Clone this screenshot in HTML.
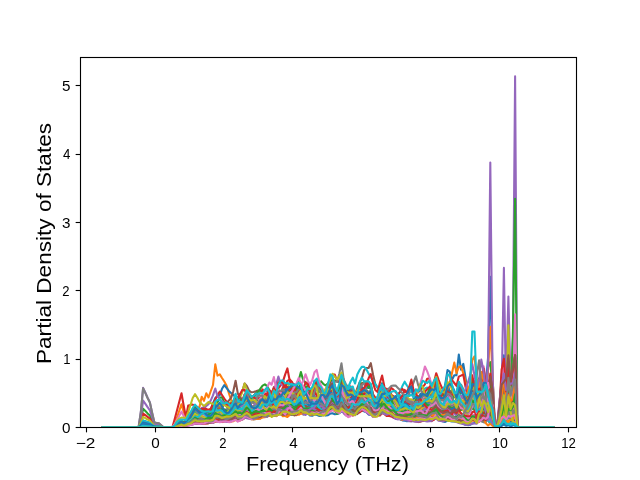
<!DOCTYPE html>
<html><head><meta charset="utf-8"><style>
html,body{margin:0;padding:0;background:#fff;overflow:hidden;}
svg{display:block;}
.ov{position:absolute;left:0;top:0;will-change:transform;}
</style></head><body>
<svg width="640" height="480" viewBox="0 0 640 480">
<rect width="640" height="480" fill="#fff"/>
<defs><clipPath id="c"><rect x="80" y="57.6" width="496" height="369.6"/></clipPath></defs>
<g clip-path="url(#c)" fill="none" stroke-width="2.08" stroke-linejoin="round" stroke-linecap="square">
<polyline stroke="#1f77b4" points="102.5,427.2 104.8,427.2 107.1,427.2 109.3,427.2 111.6,427.2 113.8,427.2 116.1,427.2 118.3,427.2 120.6,427.2 122.8,427.2 125.1,427.2 127.3,427.2 129.6,427.2 131.9,427.2 134.1,427.2 136.4,427.2 138.6,427.2 140.9,427.2 143.1,427.2 145.4,427.2 147.6,427.2 149.9,427.2 152.1,427.2 154.4,427.2 156.7,427.2 158.9,427.2 161.2,427.2 163.4,427.2 165.7,427.2 167.9,427.2 170.2,427.2 172.4,427.2 174.7,426.8 176.9,425.5 179.2,424.0 181.5,423.0 183.7,424.9 186.0,423.9 188.2,421.7 190.5,419.9 192.7,416.7 195.0,413.7 197.2,415.6 199.5,418.0 201.7,417.7 204.0,418.0 206.3,418.8 208.5,418.5 210.8,416.4 213.0,413.7 215.3,410.2 217.5,413.4 219.8,413.7 222.0,413.3 224.3,414.0 226.5,413.6 228.8,412.8 231.1,413.8 233.3,413.6 235.6,409.0 237.8,410.2 240.1,409.9 242.3,408.9 244.6,406.3 246.8,407.6 249.1,409.4 251.3,410.6 253.6,411.0 255.9,411.3 258.1,411.9 260.4,410.2 262.6,406.8 264.9,406.7 267.1,402.8 269.4,397.6 271.6,402.7 273.9,400.4 276.1,405.2 278.4,403.0 280.7,401.9 282.9,401.2 285.2,401.7 287.4,399.8 289.7,396.7 291.9,399.2 294.2,404.3 296.4,401.7 298.7,396.0 300.9,396.6 303.2,402.4 305.5,404.4 307.7,405.3 310.0,406.8 312.2,405.5 314.5,409.3 316.7,410.7 319.0,402.3 321.2,395.3 323.5,401.6 325.7,403.0 328.0,399.2 330.3,395.9 332.5,391.0 334.8,395.9 337.0,404.8 339.3,401.9 341.5,393.2 343.8,399.4 346.0,400.3 348.3,402.6 350.5,403.8 352.8,401.6 355.1,405.6 357.3,402.6 359.6,397.6 361.8,397.1 364.1,397.9 366.3,396.9 368.6,398.3 370.8,402.8 373.1,411.9 375.3,412.0 377.6,410.0 379.9,408.3 382.1,404.9 384.4,408.0 386.6,408.9 388.9,407.7 391.1,405.8 393.4,409.5 395.6,412.1 397.9,412.3 400.1,412.6 402.4,414.1 404.7,412.0 406.9,410.8 409.2,409.8 411.4,409.4 413.7,412.5 415.9,409.5 418.2,409.8 420.4,407.7 422.7,406.5 424.9,406.8 427.2,405.4 429.5,400.5 431.7,399.8 434.0,399.6 436.2,398.2 438.5,399.8 440.7,399.3 443.0,395.2 445.2,384.3 447.5,370.1 449.7,371.7 452.0,379.8 454.3,375.3 456.5,375.1 458.8,354.5 461.0,369.7 463.3,363.9 465.5,377.4 467.8,394.9 470.0,401.2 472.3,401.4 474.5,400.7 476.8,405.6 479.1,394.6 481.3,407.7 483.6,408.3 485.8,409.0 488.1,402.2 490.3,413.4 492.6,417.6 494.8,425.6 497.1,426.8 499.3,423.7 501.6,420.3 503.9,420.2 506.1,420.3 508.4,415.7 510.6,422.3 512.9,419.2 515.1,420.7 517.4,427.2 519.6,427.2 521.9,427.2 524.1,427.2 526.4,427.2 528.7,427.2 530.9,427.2 533.2,427.2 535.4,427.2 537.7,427.2 539.9,427.2 542.2,427.2 544.4,427.2 546.7,427.2 548.9,427.2 551.2,427.2 553.5,427.2"/>
<polyline stroke="#ff7f0e" points="102.5,427.2 104.8,427.2 107.1,427.2 109.3,427.2 111.6,427.2 113.8,427.2 116.1,427.2 118.3,427.2 120.6,427.2 122.8,427.2 125.1,427.2 127.3,427.2 129.6,427.2 131.9,427.2 134.1,427.2 136.4,427.2 138.6,427.2 140.9,427.2 143.1,427.2 145.4,427.2 147.6,427.2 149.9,427.2 152.1,427.2 154.4,427.2 156.7,427.2 158.9,427.2 161.2,427.2 163.4,427.2 165.7,427.2 167.9,427.2 170.2,427.2 172.4,427.2 174.7,426.9 176.9,426.1 179.2,424.6 181.5,422.5 183.7,424.0 186.0,418.6 188.2,414.9 190.5,412.3 192.7,410.2 195.0,409.7 197.2,410.0 199.5,406.7 201.7,396.7 204.0,400.8 206.3,393.3 208.5,397.5 210.8,391.0 213.0,385.0 215.3,364.4 217.5,375.6 219.8,374.4 222.0,378.0 224.3,381.5 226.5,385.5 228.8,393.0 231.1,400.0 233.3,401.5 235.6,402.5 237.8,403.1 240.1,404.4 242.3,403.8 244.6,401.9 246.8,403.8 249.1,410.1 251.3,411.7 253.6,408.9 255.9,411.2 258.1,409.6 260.4,405.4 262.6,402.8 264.9,403.1 267.1,402.0 269.4,398.7 271.6,407.9 273.9,409.2 276.1,406.5 278.4,397.8 280.7,398.2 282.9,398.8 285.2,404.1 287.4,402.6 289.7,397.0 291.9,395.0 294.2,398.0 296.4,405.1 298.7,406.5 300.9,404.4 303.2,405.0 305.5,400.8 307.7,403.5 310.0,407.4 312.2,405.2 314.5,403.0 316.7,403.1 319.0,404.6 321.2,402.6 323.5,404.2 325.7,405.4 328.0,402.2 330.3,399.3 332.5,396.3 334.8,403.1 337.0,409.9 339.3,404.7 341.5,393.1 343.8,397.1 346.0,403.9 348.3,407.3 350.5,404.9 352.8,404.8 355.1,409.2 357.3,406.1 359.6,399.3 361.8,400.6 364.1,400.7 366.3,398.5 368.6,399.0 370.8,399.1 373.1,404.8 375.3,405.7 377.6,402.8 379.9,398.2 382.1,398.2 384.4,402.6 386.6,404.4 388.9,404.0 391.1,402.1 393.4,403.2 395.6,409.3 397.9,411.5 400.1,410.0 402.4,407.1 404.7,403.0 406.9,404.9 409.2,407.9 411.4,408.9 413.7,411.1 415.9,409.5 418.2,411.2 420.4,408.5 422.7,406.1 424.9,405.8 427.2,404.4 429.5,399.8 431.7,401.2 434.0,400.1 436.2,400.3 438.5,407.6 440.7,408.3 443.0,408.3 445.2,407.2 447.5,402.2 449.7,402.8 452.0,407.0 454.3,410.0 456.5,412.2 458.8,407.1 461.0,409.0 463.3,410.4 465.5,411.7 467.8,412.6 470.0,411.5 472.3,406.5 474.5,407.5 476.8,414.0 479.1,410.8 481.3,410.1 483.6,411.0 485.8,411.9 488.1,416.2 490.3,420.0 492.6,421.9 494.8,426.4 497.1,426.9 499.3,417.3 501.6,388.2 503.9,364.2 506.1,399.0 508.4,383.0 510.6,407.7 512.9,382.3 515.1,358.9 517.4,427.2 519.6,427.2 521.9,427.2 524.1,427.2 526.4,427.2 528.7,427.2 530.9,427.2 533.2,427.2 535.4,427.2 537.7,427.2 539.9,427.2 542.2,427.2 544.4,427.2 546.7,427.2 548.9,427.2 551.2,427.2 553.5,427.2"/>
<polyline stroke="#2ca02c" points="102.5,427.2 104.8,427.2 107.1,427.2 109.3,427.2 111.6,427.2 113.8,427.2 116.1,427.2 118.3,427.2 120.6,427.2 122.8,427.2 125.1,427.2 127.3,427.2 129.6,427.2 131.9,427.2 134.1,427.2 136.4,427.2 138.6,427.2 140.9,427.2 143.1,427.2 145.4,427.2 147.6,427.2 149.9,427.2 152.1,427.2 154.4,427.2 156.7,427.2 158.9,427.2 161.2,427.2 163.4,427.2 165.7,427.2 167.9,427.2 170.2,427.2 172.4,427.2 174.7,426.6 176.9,424.4 179.2,422.7 181.5,420.9 183.7,422.7 186.0,419.6 188.2,417.3 190.5,418.1 192.7,411.9 195.0,407.4 197.2,409.1 199.5,410.5 201.7,409.1 204.0,409.4 206.3,410.8 208.5,412.1 210.8,409.6 213.0,406.7 215.3,401.3 217.5,404.3 219.8,404.4 222.0,402.7 224.3,404.4 226.5,406.2 228.8,407.4 231.1,409.5 233.3,408.6 235.6,400.9 237.8,402.1 240.1,400.7 242.3,401.3 244.6,399.1 246.8,394.2 249.1,395.3 251.3,399.3 253.6,400.9 255.9,401.6 258.1,400.3 260.4,400.9 262.6,399.2 264.9,401.7 267.1,399.0 269.4,395.9 271.6,396.3 273.9,390.4 276.1,397.3 278.4,397.5 280.7,398.1 282.9,395.9 285.2,393.1 287.4,389.5 289.7,389.8 291.9,389.4 294.2,389.0 296.4,388.4 298.7,380.3 300.9,372.1 303.2,380.1 305.5,382.4 307.7,384.7 310.0,389.9 312.2,388.7 314.5,387.3 316.7,385.8 319.0,383.5 321.2,381.3 323.5,384.2 325.7,385.5 328.0,383.3 330.3,381.5 332.5,380.0 334.8,380.8 337.0,381.5 339.3,382.3 341.5,384.2 343.8,386.7 346.0,387.8 348.3,390.5 350.5,392.0 352.8,395.0 355.1,400.6 357.3,399.6 359.6,394.9 361.8,393.2 364.1,392.2 366.3,390.1 368.6,392.0 370.8,391.8 373.1,400.8 375.3,403.6 377.6,402.8 379.9,396.0 382.1,383.4 384.4,389.9 386.6,394.2 388.9,394.7 391.1,396.7 393.4,403.4 395.6,406.6 397.9,404.8 400.1,404.8 402.4,405.9 404.7,404.3 406.9,404.4 409.2,405.5 411.4,407.9 413.7,410.9 415.9,405.9 418.2,407.5 420.4,405.0 422.7,401.9 424.9,400.5 427.2,398.0 429.5,395.7 431.7,397.7 434.0,396.0 436.2,390.6 438.5,394.7 440.7,397.7 443.0,400.3 445.2,396.7 447.5,389.2 449.7,390.7 452.0,392.7 454.3,395.2 456.5,398.6 458.8,389.7 461.0,396.6 463.3,398.0 465.5,398.5 467.8,401.3 470.0,397.9 472.3,384.3 474.5,387.9 476.8,403.9 479.1,398.5 481.3,402.1 483.6,396.3 485.8,399.1 488.1,366.7 490.3,362.1 492.6,388.6 494.8,424.5 497.1,427.1 499.3,413.1 501.6,400.8 503.9,380.4 506.1,398.4 508.4,393.6 510.6,400.8 512.9,403.8 515.1,381.7 517.4,427.2 519.6,427.2 521.9,427.2 524.1,427.2 526.4,427.2 528.7,427.2 530.9,427.2 533.2,427.2 535.4,427.2 537.7,427.2 539.9,427.2 542.2,427.2 544.4,427.2 546.7,427.2 548.9,427.2 551.2,427.2 553.5,427.2"/>
<polyline stroke="#d62728" points="102.5,427.2 104.8,427.2 107.1,427.2 109.3,427.2 111.6,427.2 113.8,427.2 116.1,427.2 118.3,427.2 120.6,427.2 122.8,427.2 125.1,427.2 127.3,427.2 129.6,427.2 131.9,427.2 134.1,427.2 136.4,427.2 138.6,427.2 140.9,427.2 143.1,427.2 145.4,427.2 147.6,427.2 149.9,427.2 152.1,427.2 154.4,427.2 156.7,427.2 158.9,427.2 161.2,427.2 163.4,427.2 165.7,427.2 167.9,427.2 170.2,427.2 172.4,427.2 174.7,426.7 176.9,425.0 179.2,422.1 181.5,420.5 183.7,423.4 186.0,421.3 188.2,418.0 190.5,417.9 192.7,416.3 195.0,412.2 197.2,412.0 199.5,412.2 201.7,413.5 204.0,413.0 206.3,413.1 208.5,414.0 210.8,414.4 213.0,411.5 215.3,405.1 217.5,407.9 219.8,408.1 222.0,410.0 224.3,411.5 226.5,412.1 228.8,411.9 231.1,410.0 233.3,407.8 235.6,407.5 237.8,411.4 240.1,407.6 242.3,401.9 244.6,395.9 246.8,394.0 249.1,399.1 251.3,406.2 253.6,407.7 255.9,409.8 258.1,407.7 260.4,404.8 262.6,406.9 264.9,410.1 267.1,406.2 269.4,398.0 271.6,393.9 273.9,387.1 276.1,389.9 278.4,388.3 280.7,385.1 282.9,381.6 285.2,374.4 287.4,368.4 289.7,380.7 291.9,387.3 294.2,389.0 296.4,391.1 298.7,389.8 300.9,387.3 303.2,392.9 305.5,389.7 307.7,391.3 310.0,399.6 312.2,400.2 314.5,392.3 316.7,387.2 319.0,391.8 321.2,390.5 323.5,396.0 325.7,397.3 328.0,392.9 330.3,386.1 332.5,382.3 334.8,387.3 337.0,391.0 339.3,389.4 341.5,380.7 343.8,388.7 346.0,398.2 348.3,395.4 350.5,386.4 352.8,389.0 355.1,396.2 357.3,392.2 359.6,388.3 361.8,387.6 364.1,388.2 366.3,391.5 368.6,394.2 370.8,394.2 373.1,404.3 375.3,405.8 377.6,396.9 379.9,395.5 382.1,393.5 384.4,392.6 386.6,393.9 388.9,393.0 391.1,394.0 393.4,403.1 395.6,410.5 397.9,406.8 400.1,403.2 402.4,401.4 404.7,401.6 406.9,401.7 409.2,400.7 411.4,401.0 413.7,404.3 415.9,400.0 418.2,400.5 420.4,396.0 422.7,396.0 424.9,396.0 427.2,396.8 429.5,394.5 431.7,392.5 434.0,385.4 436.2,378.9 438.5,391.1 440.7,397.3 443.0,399.5 445.2,400.0 447.5,392.1 449.7,392.2 452.0,397.5 454.3,402.9 456.5,405.0 458.8,391.5 461.0,399.2 463.3,404.8 465.5,406.7 467.8,405.7 470.0,399.7 472.3,387.0 474.5,388.2 476.8,399.9 479.1,390.0 481.3,396.9 483.6,400.0 485.8,401.1 488.1,387.7 490.3,396.8 492.6,419.3 494.8,425.8 497.1,426.7 499.3,420.7 501.6,413.3 503.9,393.8 506.1,406.8 508.4,390.5 510.6,406.7 512.9,405.8 515.1,383.2 517.4,427.2 519.6,427.2 521.9,427.2 524.1,427.2 526.4,427.2 528.7,427.2 530.9,427.2 533.2,427.2 535.4,427.2 537.7,427.2 539.9,427.2 542.2,427.2 544.4,427.2 546.7,427.2 548.9,427.2 551.2,427.2 553.5,427.2"/>
<polyline stroke="#9467bd" points="102.5,427.2 104.8,427.2 107.1,427.2 109.3,427.2 111.6,427.2 113.8,427.2 116.1,427.2 118.3,427.2 120.6,427.2 122.8,427.2 125.1,427.2 127.3,427.2 129.6,427.2 131.9,427.2 134.1,427.2 136.4,427.2 138.6,427.2 140.9,411.5 143.1,387.9 145.4,392.8 147.6,397.7 149.9,402.4 152.1,412.7 154.4,422.5 156.7,422.9 158.9,423.3 161.2,425.2 163.4,427.2 165.7,427.2 167.9,427.2 170.2,427.2 172.4,427.2 174.7,426.9 176.9,425.7 179.2,424.0 181.5,422.5 183.7,424.2 186.0,423.4 188.2,422.8 190.5,422.2 192.7,419.2 195.0,416.7 197.2,417.1 199.5,418.0 201.7,419.0 204.0,420.0 206.3,419.8 208.5,419.7 210.8,418.4 213.0,415.1 215.3,411.2 217.5,415.1 219.8,414.9 222.0,412.8 224.3,413.1 226.5,415.8 228.8,418.4 231.1,417.2 233.3,414.5 235.6,409.9 237.8,410.3 240.1,411.2 242.3,411.8 244.6,410.8 246.8,410.0 249.1,411.3 251.3,413.0 253.6,410.9 255.9,408.6 258.1,408.3 260.4,408.3 262.6,408.8 264.9,404.0 267.1,398.3 269.4,393.3 271.6,392.2 273.9,388.5 276.1,384.7 278.4,376.6 280.7,383.8 282.9,385.9 285.2,389.5 287.4,392.1 289.7,395.3 291.9,399.4 294.2,402.6 296.4,406.3 298.7,400.6 300.9,399.1 303.2,407.5 305.5,406.2 307.7,403.8 310.0,406.3 312.2,407.9 314.5,409.1 316.7,408.8 319.0,408.3 321.2,407.6 323.5,410.8 325.7,410.1 328.0,408.0 330.3,406.1 332.5,402.6 334.8,406.0 337.0,409.5 339.3,409.0 341.5,402.9 343.8,407.8 346.0,411.3 348.3,414.1 350.5,413.0 352.8,413.2 355.1,412.1 357.3,405.7 359.6,401.8 361.8,400.6 364.1,402.9 366.3,400.5 368.6,401.8 370.8,407.9 373.1,410.4 375.3,412.7 377.6,410.6 379.9,409.2 382.1,407.7 384.4,406.3 386.6,407.2 388.9,407.4 391.1,406.2 393.4,408.0 395.6,409.6 397.9,411.9 400.1,413.5 402.4,411.7 404.7,410.8 406.9,414.1 409.2,416.2 411.4,414.8 413.7,414.6 415.9,411.6 418.2,411.1 420.4,411.1 422.7,410.7 424.9,411.0 427.2,412.7 429.5,411.9 431.7,413.9 434.0,414.6 436.2,411.9 438.5,412.5 440.7,414.0 443.0,415.6 445.2,415.7 447.5,412.1 449.7,411.6 452.0,413.8 454.3,413.8 456.5,414.1 458.8,411.8 461.0,414.3 463.3,414.7 465.5,418.0 467.8,419.0 470.0,418.4 472.3,414.7 474.5,414.7 476.8,418.9 479.1,414.9 481.3,415.6 483.6,405.4 485.8,403.9 488.1,388.0 490.3,396.8 492.6,413.2 494.8,424.8 497.1,427.0 499.3,414.0 501.6,396.5 503.9,372.1 506.1,398.6 508.4,385.7 510.6,393.3 512.9,336.8 515.1,76.4 517.4,427.2 519.6,427.2 521.9,427.2 524.1,427.2 526.4,427.2 528.7,427.2 530.9,427.2 533.2,427.2 535.4,427.2 537.7,427.2 539.9,427.2 542.2,427.2 544.4,427.2 546.7,427.2 548.9,427.2 551.2,427.2 553.5,427.2"/>
<polyline stroke="#8c564b" points="102.5,427.2 104.8,427.2 107.1,427.2 109.3,427.2 111.6,427.2 113.8,427.2 116.1,427.2 118.3,427.2 120.6,427.2 122.8,427.2 125.1,427.2 127.3,427.2 129.6,427.2 131.9,427.2 134.1,427.2 136.4,427.2 138.6,427.2 140.9,427.2 143.1,427.2 145.4,427.2 147.6,427.2 149.9,427.2 152.1,427.2 154.4,427.2 156.7,427.2 158.9,427.2 161.2,427.2 163.4,427.2 165.7,427.2 167.9,427.2 170.2,427.2 172.4,427.2 174.7,426.9 176.9,425.9 179.2,424.7 181.5,424.0 183.7,424.6 186.0,422.8 188.2,421.7 190.5,421.6 192.7,419.9 195.0,417.8 197.2,418.8 199.5,418.4 201.7,418.5 204.0,420.5 206.3,420.6 208.5,420.5 210.8,418.9 213.0,416.0 215.3,413.8 217.5,416.7 219.8,416.7 222.0,417.0 224.3,418.0 226.5,416.3 228.8,416.3 231.1,413.1 233.3,407.3 235.6,402.4 237.8,399.0 240.1,395.0 242.3,391.4 244.6,383.5 246.8,385.9 249.1,390.6 251.3,392.3 253.6,391.9 255.9,391.3 258.1,390.6 260.4,390.5 262.6,393.3 264.9,396.0 267.1,398.8 269.4,400.8 271.6,404.0 273.9,407.0 276.1,410.9 278.4,406.5 280.7,404.3 282.9,402.5 285.2,402.3 287.4,400.3 289.7,401.7 291.9,399.0 294.2,402.6 296.4,408.8 298.7,405.1 300.9,394.8 303.2,398.7 305.5,400.5 307.7,401.5 310.0,402.1 312.2,403.4 314.5,404.2 316.7,402.7 319.0,402.3 321.2,402.3 323.5,406.7 325.7,406.8 328.0,405.0 330.3,399.2 332.5,392.2 334.8,397.4 337.0,403.3 339.3,400.6 341.5,390.2 343.8,399.5 346.0,408.6 348.3,411.7 350.5,414.1 352.8,411.1 355.1,404.7 357.3,399.9 359.6,400.6 361.8,399.5 364.1,398.9 366.3,399.8 368.6,404.6 370.8,407.6 373.1,412.1 375.3,411.1 377.6,408.5 379.9,406.1 382.1,401.4 384.4,405.8 386.6,407.2 388.9,407.5 391.1,407.4 393.4,406.9 395.6,411.1 397.9,414.2 400.1,414.5 402.4,413.7 404.7,409.8 406.9,408.5 409.2,409.7 411.4,411.9 413.7,412.5 415.9,407.3 418.2,408.9 420.4,406.7 422.7,405.3 424.9,407.6 427.2,405.6 429.5,403.3 431.7,403.9 434.0,400.9 436.2,399.4 438.5,406.0 440.7,408.3 443.0,410.0 445.2,409.4 447.5,406.7 449.7,405.1 452.0,407.8 454.3,407.3 456.5,409.3 458.8,404.5 461.0,407.3 463.3,409.1 465.5,413.4 467.8,413.7 470.0,409.6 472.3,404.0 474.5,404.0 476.8,408.9 479.1,404.6 481.3,404.5 483.6,390.1 485.8,405.7 488.1,413.2 490.3,415.6 492.6,421.1 494.8,426.1 497.1,426.8 499.3,416.4 501.6,405.4 503.9,362.0 506.1,405.1 508.4,377.8 510.6,410.1 512.9,404.9 515.1,377.9 517.4,427.2 519.6,427.2 521.9,427.2 524.1,427.2 526.4,427.2 528.7,427.2 530.9,427.2 533.2,427.2 535.4,427.2 537.7,427.2 539.9,427.2 542.2,427.2 544.4,427.2 546.7,427.2 548.9,427.2 551.2,427.2 553.5,427.2"/>
<polyline stroke="#e377c2" points="102.5,427.2 104.8,427.2 107.1,427.2 109.3,427.2 111.6,427.2 113.8,427.2 116.1,427.2 118.3,427.2 120.6,427.2 122.8,427.2 125.1,427.2 127.3,427.2 129.6,427.2 131.9,427.2 134.1,427.2 136.4,427.2 138.6,427.2 140.9,427.2 143.1,427.2 145.4,427.2 147.6,427.2 149.9,427.2 152.1,427.2 154.4,427.2 156.7,427.2 158.9,427.2 161.2,427.2 163.4,427.2 165.7,427.2 167.9,427.2 170.2,427.2 172.4,427.2 174.7,426.9 176.9,426.1 179.2,425.1 181.5,424.4 183.7,425.5 186.0,425.0 188.2,423.4 190.5,422.7 192.7,421.7 195.0,421.2 197.2,420.7 199.5,418.9 201.7,417.4 204.0,419.4 206.3,420.0 208.5,419.6 210.8,419.4 213.0,418.6 215.3,415.7 217.5,416.6 219.8,415.6 222.0,414.8 224.3,414.2 226.5,414.9 228.8,415.7 231.1,415.6 233.3,414.9 235.6,412.2 237.8,412.5 240.1,412.5 242.3,412.1 244.6,410.4 246.8,408.3 249.1,410.4 251.3,413.9 253.6,414.1 255.9,412.2 258.1,409.1 260.4,408.4 262.6,408.5 264.9,410.3 267.1,412.3 269.4,413.6 271.6,413.8 273.9,413.0 276.1,412.9 278.4,408.3 280.7,404.7 282.9,404.0 285.2,408.0 287.4,409.6 289.7,407.6 291.9,403.0 294.2,401.0 296.4,396.5 298.7,388.6 300.9,384.5 303.2,381.4 305.5,374.2 307.7,380.4 310.0,385.0 312.2,380.4 314.5,372.3 316.7,369.9 319.0,380.6 321.2,386.1 323.5,390.0 325.7,395.2 328.0,396.7 330.3,396.7 332.5,397.4 334.8,403.4 337.0,406.9 339.3,405.1 341.5,397.4 343.8,402.0 346.0,406.8 348.3,409.7 350.5,408.2 352.8,409.9 355.1,410.1 357.3,406.6 359.6,406.5 361.8,403.1 364.1,400.9 366.3,404.4 368.6,410.4 370.8,413.8 373.1,413.8 375.3,411.9 377.6,408.1 379.9,404.0 382.1,402.2 384.4,406.7 386.6,408.9 388.9,408.2 391.1,407.7 393.4,408.6 395.6,411.8 397.9,415.1 400.1,415.2 402.4,413.4 404.7,413.0 406.9,411.6 409.2,410.4 411.4,410.8 413.7,413.2 415.9,410.3 418.2,412.0 420.4,412.1 422.7,410.4 424.9,407.9 427.2,407.4 429.5,406.8 431.7,409.9 434.0,409.2 436.2,406.7 438.5,410.5 440.7,412.1 443.0,411.9 445.2,411.7 447.5,412.8 449.7,417.5 452.0,416.8 454.3,412.5 456.5,414.2 458.8,411.8 461.0,414.2 463.3,415.5 465.5,419.5 467.8,416.3 470.0,410.3 472.3,402.5 474.5,398.7 476.8,396.2 479.1,391.7 481.3,380.0 483.6,366.3 485.8,378.1 488.1,385.4 490.3,377.0 492.6,390.5 494.8,424.5 497.1,425.8 499.3,408.3 501.6,389.5 503.9,391.5 506.1,388.0 508.4,382.0 510.6,394.3 512.9,382.8 515.1,358.7 517.4,427.2 519.6,427.2 521.9,427.2 524.1,427.2 526.4,427.2 528.7,427.2 530.9,427.2 533.2,427.2 535.4,427.2 537.7,427.2 539.9,427.2 542.2,427.2 544.4,427.2 546.7,427.2 548.9,427.2 551.2,427.2 553.5,427.2"/>
<polyline stroke="#7f7f7f" points="102.5,427.2 104.8,427.2 107.1,427.2 109.3,427.2 111.6,427.2 113.8,427.2 116.1,427.2 118.3,427.2 120.6,427.2 122.8,427.2 125.1,427.2 127.3,427.2 129.6,427.2 131.9,427.2 134.1,427.2 136.4,427.2 138.6,427.2 140.9,427.2 143.1,427.2 145.4,427.2 147.6,427.2 149.9,427.2 152.1,427.2 154.4,427.2 156.7,427.2 158.9,427.2 161.2,427.2 163.4,427.2 165.7,427.2 167.9,427.2 170.2,427.2 172.4,427.2 174.7,426.9 176.9,426.4 179.2,425.8 181.5,425.1 183.7,425.8 186.0,425.3 188.2,424.6 190.5,424.3 192.7,423.0 195.0,422.4 197.2,423.0 199.5,422.6 201.7,422.0 204.0,422.7 206.3,423.2 208.5,423.2 210.8,422.0 213.0,420.8 215.3,419.4 217.5,419.9 219.8,419.6 222.0,419.8 224.3,420.2 226.5,419.8 228.8,419.9 231.1,419.1 233.3,419.0 235.6,418.6 237.8,418.9 240.1,418.9 242.3,418.4 244.6,418.1 246.8,417.1 249.1,417.2 251.3,418.7 253.6,419.4 255.9,418.9 258.1,418.5 260.4,418.5 262.6,416.6 264.9,415.9 267.1,416.8 269.4,414.2 271.6,413.8 273.9,413.6 276.1,414.6 278.4,413.2 280.7,414.3 282.9,412.5 285.2,412.7 287.4,411.8 289.7,413.2 291.9,413.5 294.2,413.3 296.4,412.5 298.7,411.4 300.9,412.0 303.2,414.6 305.5,413.1 307.7,413.3 310.0,413.6 312.2,412.1 314.5,411.6 316.7,411.7 319.0,412.7 321.2,411.5 323.5,412.2 325.7,412.6 328.0,410.9 330.3,408.8 332.5,405.3 334.8,408.5 337.0,413.5 339.3,412.0 341.5,407.8 343.8,412.2 346.0,413.3 348.3,413.6 350.5,413.8 352.8,413.1 355.1,413.2 357.3,412.6 359.6,411.1 361.8,407.7 364.1,406.2 366.3,407.2 368.6,409.9 370.8,410.9 373.1,414.6 375.3,414.2 377.6,414.9 379.9,413.0 382.1,407.0 384.4,406.9 386.6,406.0 388.9,408.1 391.1,411.6 393.4,413.2 395.6,414.6 397.9,415.7 400.1,416.5 402.4,416.4 404.7,415.6 406.9,414.8 409.2,414.5 411.4,416.3 413.7,418.3 415.9,415.4 418.2,415.3 420.4,414.6 422.7,413.9 424.9,414.8 427.2,415.4 429.5,413.8 431.7,413.7 434.0,411.4 436.2,410.6 438.5,416.3 440.7,417.2 443.0,418.7 445.2,418.8 447.5,415.4 449.7,416.2 452.0,418.3 454.3,419.4 456.5,420.2 458.8,417.9 461.0,419.3 463.3,418.8 465.5,419.8 467.8,420.7 470.0,419.6 472.3,416.8 474.5,418.5 476.8,421.9 479.1,419.9 481.3,418.8 483.6,411.2 485.8,418.9 488.1,420.7 490.3,423.8 492.6,424.1 494.8,426.6 497.1,426.9 499.3,406.8 501.6,398.3 503.9,381.1 506.1,401.7 508.4,355.5 510.6,387.6 512.9,391.9 515.1,355.4 517.4,427.2 519.6,427.2 521.9,427.2 524.1,427.2 526.4,427.2 528.7,427.2 530.9,427.2 533.2,427.2 535.4,427.2 537.7,427.2 539.9,427.2 542.2,427.2 544.4,427.2 546.7,427.2 548.9,427.2 551.2,427.2 553.5,427.2"/>
<polyline stroke="#bcbd22" points="102.5,427.2 104.8,427.2 107.1,427.2 109.3,427.2 111.6,427.2 113.8,427.2 116.1,427.2 118.3,427.2 120.6,427.2 122.8,427.2 125.1,427.2 127.3,427.2 129.6,427.2 131.9,427.2 134.1,427.2 136.4,427.2 138.6,427.2 140.9,427.2 143.1,427.2 145.4,427.2 147.6,427.2 149.9,427.2 152.1,427.2 154.4,427.2 156.7,427.2 158.9,427.2 161.2,427.2 163.4,427.2 165.7,427.2 167.9,427.2 170.2,427.2 172.4,427.2 174.7,426.7 176.9,424.9 179.2,423.0 181.5,420.9 183.7,422.8 186.0,421.5 188.2,418.5 190.5,417.5 192.7,415.6 195.0,411.8 197.2,412.5 199.5,414.5 201.7,412.8 204.0,412.0 206.3,412.7 208.5,413.9 210.8,414.7 213.0,412.9 215.3,407.5 217.5,408.3 219.8,406.8 222.0,405.9 224.3,404.2 226.5,405.8 228.8,404.5 231.1,401.8 233.3,401.6 235.6,399.6 237.8,399.1 240.1,397.6 242.3,391.8 244.6,383.6 246.8,389.5 249.1,394.3 251.3,395.8 253.6,396.0 255.9,395.6 258.1,398.5 260.4,399.2 262.6,394.3 264.9,395.1 267.1,395.2 269.4,393.8 271.6,401.3 273.9,397.8 276.1,397.6 278.4,391.8 280.7,391.4 282.9,389.6 285.2,388.0 287.4,381.9 289.7,389.4 291.9,389.3 294.2,387.2 296.4,392.9 298.7,392.9 300.9,392.1 303.2,392.1 305.5,386.9 307.7,390.6 310.0,394.7 312.2,393.5 314.5,391.1 316.7,389.5 319.0,392.4 321.2,391.5 323.5,400.1 325.7,404.5 328.0,401.7 330.3,390.4 332.5,382.0 334.8,386.8 337.0,391.1 339.3,394.6 341.5,386.1 343.8,392.8 346.0,399.9 348.3,404.3 350.5,403.8 352.8,399.2 355.1,395.9 357.3,392.8 359.6,391.6 361.8,393.5 364.1,393.1 366.3,392.4 368.6,395.8 370.8,398.6 373.1,405.6 375.3,405.0 377.6,399.8 379.9,397.3 382.1,399.3 384.4,404.6 386.6,401.9 388.9,398.0 391.1,396.1 393.4,398.6 395.6,403.0 397.9,402.7 400.1,407.1 402.4,409.7 404.7,404.0 406.9,403.4 409.2,406.0 411.4,408.8 413.7,409.9 415.9,404.4 418.2,404.3 420.4,400.4 422.7,395.5 424.9,393.0 427.2,395.6 429.5,396.2 431.7,396.5 434.0,394.4 436.2,391.6 438.5,402.3 440.7,409.4 443.0,410.8 445.2,405.6 447.5,399.4 449.7,400.0 452.0,402.9 454.3,408.2 456.5,411.0 458.8,400.1 461.0,400.8 463.3,402.9 465.5,408.1 467.8,411.4 470.0,407.4 472.3,396.1 474.5,394.2 476.8,406.3 479.1,404.7 481.3,402.8 483.6,399.7 485.8,397.8 488.1,406.9 490.3,415.0 492.6,417.9 494.8,426.5 497.1,426.6 499.3,425.0 501.6,425.0 503.9,423.7 506.1,424.3 508.4,420.5 510.6,424.7 512.9,422.4 515.1,422.5 517.4,427.2 519.6,427.2 521.9,427.2 524.1,427.2 526.4,427.2 528.7,427.2 530.9,427.2 533.2,427.2 535.4,427.2 537.7,427.2 539.9,427.2 542.2,427.2 544.4,427.2 546.7,427.2 548.9,427.2 551.2,427.2 553.5,427.2"/>
<polyline stroke="#17becf" points="102.5,427.2 104.8,427.2 107.1,427.2 109.3,427.2 111.6,427.2 113.8,427.2 116.1,427.2 118.3,427.2 120.6,427.2 122.8,427.2 125.1,427.2 127.3,427.2 129.6,427.2 131.9,427.2 134.1,427.2 136.4,427.2 138.6,427.2 140.9,427.2 143.1,427.2 145.4,427.2 147.6,427.2 149.9,427.2 152.1,427.2 154.4,427.2 156.7,427.2 158.9,427.2 161.2,427.2 163.4,427.2 165.7,427.2 167.9,427.2 170.2,427.2 172.4,427.2 174.7,426.7 176.9,424.9 179.2,423.1 181.5,422.5 183.7,423.8 186.0,421.6 188.2,417.6 190.5,415.8 192.7,413.7 195.0,412.5 197.2,414.3 199.5,416.5 201.7,417.5 204.0,416.8 206.3,416.1 208.5,415.4 210.8,414.8 213.0,414.4 215.3,413.9 217.5,413.5 219.8,413.0 222.0,412.5 224.3,411.9 226.5,411.3 228.8,410.7 231.1,410.1 233.3,407.5 235.6,404.8 237.8,402.3 240.1,400.6 242.3,398.9 244.6,400.5 246.8,402.1 249.1,402.8 251.3,401.3 253.6,398.2 255.9,395.7 258.1,394.4 260.4,393.0 262.6,392.1 264.9,391.4 267.1,390.7 269.4,391.2 271.6,391.9 273.9,392.6 276.1,393.9 278.4,395.3 280.7,396.2 282.9,396.2 285.2,396.2 287.4,396.5 289.7,396.9 291.9,397.4 294.2,395.8 296.4,393.6 298.7,392.1 300.9,391.4 303.2,390.6 305.5,390.2 307.7,391.4 310.0,392.5 312.2,390.8 314.5,389.1 316.7,389.4 319.0,390.3 321.2,391.2 323.5,391.2 325.7,391.2 328.0,389.2 330.3,387.1 332.5,389.1 334.8,391.2 337.0,392.1 339.3,391.0 341.5,390.2 343.8,391.9 346.0,393.6 348.3,395.8 350.5,397.9 352.8,399.6 355.1,401.3 357.3,402.4 359.6,403.5 361.8,402.8 364.1,401.7 366.3,400.3 368.6,398.6 370.8,397.7 373.1,398.3 375.3,398.8 377.6,399.4 379.9,400.0 382.1,399.6 384.4,399.1 386.6,398.7 388.9,398.2 391.1,397.7 393.4,397.0 395.6,396.3 397.9,395.6 400.1,395.1 402.4,396.2 404.7,397.3 406.9,398.5 409.2,399.6 411.4,400.4 413.7,400.9 415.9,401.5 418.2,402.0 420.4,400.9 422.7,392.6 424.9,388.4 427.2,387.6 429.5,392.1 431.7,396.6 434.0,398.1 436.2,399.2 438.5,399.9 440.7,399.3 443.0,397.6 445.2,392.4 447.5,391.2 449.7,393.9 452.0,395.8 454.3,395.8 456.5,392.8 458.8,393.6 461.0,396.0 463.3,398.3 465.5,401.1 467.8,403.6 470.0,402.1 472.3,403.7 474.5,408.9 476.8,413.0 479.1,415.9 481.3,413.2 483.6,415.2 485.8,418.3 488.1,420.6 490.3,422.2 492.6,423.5 494.8,424.9 497.1,425.9 499.3,424.3 501.6,424.6 503.9,425.0 506.1,425.6 508.4,425.2 510.6,423.3 512.9,424.7 515.1,424.0 517.4,427.2 519.6,427.2 521.9,427.2 524.1,427.2 526.4,427.2 528.7,427.2 530.9,427.2 533.2,427.2 535.4,427.2 537.7,427.2 539.9,427.2 542.2,427.2 544.4,427.2 546.7,427.2 548.9,427.2 551.2,427.2 553.5,427.2"/>
<polyline stroke="#1f77b4" points="102.5,427.2 104.8,427.2 107.1,427.2 109.3,427.2 111.6,427.2 113.8,427.2 116.1,427.2 118.3,427.2 120.6,427.2 122.8,427.2 125.1,427.2 127.3,427.2 129.6,427.2 131.9,427.2 134.1,427.2 136.4,427.2 138.6,427.2 140.9,424.5 143.1,420.4 145.4,421.2 147.6,422.1 149.9,422.9 152.1,424.7 154.4,426.4 156.7,426.4 158.9,426.5 161.2,426.9 163.4,427.2 165.7,427.2 167.9,427.2 170.2,427.2 172.4,427.2 174.7,426.8 176.9,425.5 179.2,423.5 181.5,421.2 183.7,423.0 186.0,420.9 188.2,417.7 190.5,417.5 192.7,414.1 195.0,409.4 197.2,412.6 199.5,414.3 201.7,413.8 204.0,411.9 206.3,412.0 208.5,411.9 210.8,409.3 213.0,403.3 215.3,397.9 217.5,396.5 219.8,395.1 222.0,388.8 224.3,385.1 226.5,387.9 228.8,390.9 231.1,393.0 233.3,394.7 235.6,397.5 237.8,399.7 240.1,401.3 242.3,400.7 244.6,398.6 246.8,395.4 249.1,397.3 251.3,402.3 253.6,401.3 255.9,402.2 258.1,404.9 260.4,403.2 262.6,399.2 264.9,399.3 267.1,399.4 269.4,396.7 271.6,399.5 273.9,399.4 276.1,402.1 278.4,393.7 280.7,394.6 282.9,392.1 285.2,390.0 287.4,387.1 289.7,387.8 291.9,392.2 294.2,396.3 296.4,398.7 298.7,395.5 300.9,392.1 303.2,395.3 305.5,389.5 307.7,391.7 310.0,395.7 312.2,391.3 314.5,380.7 316.7,383.9 319.0,389.9 321.2,393.1 323.5,396.6 325.7,394.5 328.0,392.7 330.3,389.3 332.5,384.3 334.8,390.9 337.0,396.1 339.3,389.5 341.5,374.9 343.8,381.7 346.0,389.2 348.3,390.4 350.5,387.8 352.8,395.0 355.1,404.4 357.3,397.1 359.6,387.1 361.8,387.1 364.1,390.6 366.3,388.8 368.6,385.5 370.8,389.5 373.1,402.9 375.3,406.1 377.6,399.5 379.9,387.7 382.1,383.6 384.4,391.7 386.6,393.4 388.9,391.9 391.1,397.7 393.4,404.2 395.6,403.7 397.9,399.3 400.1,397.1 402.4,400.6 404.7,402.0 406.9,402.2 409.2,403.1 411.4,402.3 413.7,402.8 415.9,397.5 418.2,398.5 420.4,394.0 422.7,392.2 424.9,392.9 427.2,393.9 429.5,389.7 431.7,390.1 434.0,387.1 436.2,384.5 438.5,392.5 440.7,397.0 443.0,397.1 445.2,391.0 447.5,382.6 449.7,392.5 452.0,399.4 454.3,395.0 456.5,395.1 458.8,385.1 461.0,388.6 463.3,394.5 465.5,395.3 467.8,397.4 470.0,395.0 472.3,383.4 474.5,380.7 476.8,397.0 479.1,391.7 481.3,396.6 483.6,394.3 485.8,386.2 488.1,357.0 490.3,276.8 492.6,378.7 494.8,424.5 497.1,427.2 499.3,422.7 501.6,416.5 503.9,414.8 506.1,416.6 508.4,413.1 510.6,419.7 512.9,413.9 515.1,411.8 517.4,427.2 519.6,427.2 521.9,427.2 524.1,427.2 526.4,427.2 528.7,427.2 530.9,427.2 533.2,427.2 535.4,427.2 537.7,427.2 539.9,427.2 542.2,427.2 544.4,427.2 546.7,427.2 548.9,427.2 551.2,427.2 553.5,427.2"/>
<polyline stroke="#ff7f0e" points="102.5,427.2 104.8,427.2 107.1,427.2 109.3,427.2 111.6,427.2 113.8,427.2 116.1,427.2 118.3,427.2 120.6,427.2 122.8,427.2 125.1,427.2 127.3,427.2 129.6,427.2 131.9,427.2 134.1,427.2 136.4,427.2 138.6,427.2 140.9,427.2 143.1,427.2 145.4,427.2 147.6,427.2 149.9,427.2 152.1,427.2 154.4,427.2 156.7,427.2 158.9,427.2 161.2,427.2 163.4,427.2 165.7,427.2 167.9,427.2 170.2,427.2 172.4,427.2 174.7,423.0 176.9,418.0 179.2,411.0 181.5,404.2 183.7,412.0 186.0,419.5 188.2,416.0 190.5,413.0 192.7,414.0 195.0,414.6 197.2,415.6 199.5,416.7 201.7,417.0 204.0,416.4 206.3,416.9 208.5,419.5 210.8,420.0 213.0,417.4 215.3,412.9 217.5,414.4 219.8,414.2 222.0,413.8 224.3,413.3 226.5,413.5 228.8,415.3 231.1,416.1 233.3,414.0 235.6,408.1 237.8,411.3 240.1,411.7 242.3,409.8 244.6,405.5 246.8,404.7 249.1,410.1 251.3,412.4 253.6,410.3 255.9,409.6 258.1,412.7 260.4,414.3 262.6,411.8 264.9,411.2 267.1,409.1 269.4,405.2 271.6,409.4 273.9,411.7 276.1,413.0 278.4,406.0 280.7,404.0 282.9,405.3 285.2,408.9 287.4,410.2 289.7,409.7 291.9,409.0 294.2,408.9 296.4,410.9 298.7,410.5 300.9,409.0 303.2,410.4 305.5,408.7 307.7,408.2 310.0,410.0 312.2,410.2 314.5,409.5 316.7,410.9 319.0,410.9 321.2,409.9 323.5,411.6 325.7,413.9 328.0,413.0 330.3,410.6 332.5,406.0 334.8,408.3 337.0,411.9 339.3,407.5 341.5,402.2 343.8,406.8 346.0,408.3 348.3,411.0 350.5,410.7 352.8,412.4 355.1,409.8 357.3,406.5 359.6,405.4 361.8,404.7 364.1,406.1 366.3,404.6 368.6,404.9 370.8,406.9 373.1,412.0 375.3,412.4 377.6,410.9 379.9,406.8 382.1,403.6 384.4,407.1 386.6,408.1 388.9,405.6 391.1,405.3 393.4,409.7 395.6,412.3 397.9,412.0 400.1,415.4 402.4,415.0 404.7,412.1 406.9,411.6 409.2,414.0 411.4,416.8 413.7,417.8 415.9,413.7 418.2,413.8 420.4,413.6 422.7,413.5 424.9,415.0 427.2,414.9 429.5,412.1 431.7,411.8 434.0,409.7 436.2,403.9 438.5,402.7 440.7,400.8 443.0,396.5 445.2,392.2 447.5,388.8 449.7,383.1 452.0,373.1 454.3,362.6 456.5,373.1 458.8,367.0 461.0,366.3 463.3,373.1 465.5,381.8 467.8,389.3 470.0,393.6 472.3,395.9 474.5,400.1 476.8,408.0 479.1,409.6 481.3,409.2 483.6,390.5 485.8,392.7 488.1,369.4 490.3,326.7 492.6,377.0 494.8,424.5 497.1,426.8 499.3,425.6 501.6,423.3 503.9,421.4 506.1,424.0 508.4,422.3 510.6,424.2 512.9,424.5 515.1,421.9 517.4,427.2 519.6,427.2 521.9,427.2 524.1,427.2 526.4,427.2 528.7,427.2 530.9,427.2 533.2,427.2 535.4,427.2 537.7,427.2 539.9,427.2 542.2,427.2 544.4,427.2 546.7,427.2 548.9,427.2 551.2,427.2 553.5,427.2"/>
<polyline stroke="#2ca02c" points="102.5,427.2 104.8,427.2 107.1,427.2 109.3,427.2 111.6,427.2 113.8,427.2 116.1,427.2 118.3,427.2 120.6,427.2 122.8,427.2 125.1,427.2 127.3,427.2 129.6,427.2 131.9,427.2 134.1,427.2 136.4,427.2 138.6,427.2 140.9,419.8 143.1,408.7 145.4,411.0 147.6,413.4 149.9,415.6 152.1,420.4 154.4,425.0 156.7,425.2 158.9,425.4 161.2,426.3 163.4,427.2 165.7,427.2 167.9,427.2 170.2,427.2 172.4,427.2 174.7,426.8 176.9,425.1 179.2,422.8 181.5,420.9 183.7,423.2 186.0,421.5 188.2,417.7 190.5,414.7 192.7,409.6 195.0,406.6 197.2,411.4 199.5,412.5 201.7,408.8 204.0,411.2 206.3,411.6 208.5,411.0 210.8,409.9 213.0,407.9 215.3,402.7 217.5,402.4 219.8,397.5 222.0,397.3 224.3,402.7 226.5,406.4 228.8,409.0 231.1,406.0 233.3,402.4 235.6,396.1 237.8,397.7 240.1,398.3 242.3,401.3 244.6,402.8 246.8,396.5 249.1,395.2 251.3,397.9 253.6,396.4 255.9,393.2 258.1,391.8 260.4,388.7 262.6,385.6 264.9,384.4 267.1,386.1 269.4,390.2 271.6,394.1 273.9,388.8 276.1,391.9 278.4,389.6 280.7,393.2 282.9,396.9 285.2,397.7 287.4,392.6 289.7,390.5 291.9,385.2 294.2,386.6 296.4,392.1 298.7,387.1 300.9,384.5 303.2,391.6 305.5,387.2 307.7,386.0 310.0,394.4 312.2,392.1 314.5,384.0 316.7,386.2 319.0,397.1 321.2,394.7 323.5,396.1 325.7,398.2 328.0,391.5 330.3,383.9 332.5,378.2 334.8,385.0 337.0,396.0 339.3,389.2 341.5,374.9 343.8,382.0 346.0,389.4 348.3,392.3 350.5,394.7 352.8,392.3 355.1,397.1 357.3,391.5 359.6,384.2 361.8,383.2 364.1,382.4 366.3,383.8 368.6,388.0 370.8,384.2 373.1,395.3 375.3,402.2 377.6,401.0 379.9,398.2 382.1,389.2 384.4,390.3 386.6,392.1 388.9,394.0 391.1,397.7 393.4,402.2 395.6,405.8 397.9,405.3 400.1,404.7 402.4,405.8 404.7,405.1 406.9,404.2 409.2,401.7 411.4,402.9 413.7,407.2 415.9,397.0 418.2,396.4 420.4,397.0 422.7,396.5 424.9,396.5 427.2,396.2 429.5,388.9 431.7,388.0 434.0,385.2 436.2,382.6 438.5,392.0 440.7,393.6 443.0,394.8 445.2,396.6 447.5,392.3 449.7,397.3 452.0,401.1 454.3,395.9 456.5,397.4 458.8,391.5 461.0,391.9 463.3,390.8 465.5,395.8 467.8,400.0 470.0,397.3 472.3,380.8 474.5,385.7 476.8,393.3 479.1,378.2 481.3,396.2 483.6,395.1 485.8,398.5 488.1,396.5 490.3,382.7 492.6,404.6 494.8,424.5 497.1,426.6 499.3,421.4 501.6,411.1 503.9,401.0 506.1,418.5 508.4,414.9 510.6,400.1 512.9,336.2 515.1,198.8 517.4,427.2 519.6,427.2 521.9,427.2 524.1,427.2 526.4,427.2 528.7,427.2 530.9,427.2 533.2,427.2 535.4,427.2 537.7,427.2 539.9,427.2 542.2,427.2 544.4,427.2 546.7,427.2 548.9,427.2 551.2,427.2 553.5,427.2"/>
<polyline stroke="#d62728" points="102.5,427.2 104.8,427.2 107.1,427.2 109.3,427.2 111.6,427.2 113.8,427.2 116.1,427.2 118.3,427.2 120.6,427.2 122.8,427.2 125.1,427.2 127.3,427.2 129.6,427.2 131.9,427.2 134.1,427.2 136.4,427.2 138.6,427.2 140.9,421.7 143.1,413.5 145.4,415.2 147.6,416.9 149.9,418.6 152.1,422.1 154.4,425.6 156.7,425.7 158.9,425.8 161.2,426.5 163.4,427.2 165.7,427.2 167.9,427.2 170.2,427.2 172.4,427.2 174.7,419.0 176.9,410.7 179.2,402.0 181.5,393.3 183.7,405.8 186.0,417.5 188.2,405.4 190.5,405.0 192.7,404.6 195.0,405.5 197.2,407.0 199.5,409.0 201.7,410.0 204.0,407.0 206.3,409.0 208.5,410.0 210.8,408.7 213.0,404.0 215.3,399.5 217.5,395.0 219.8,391.5 222.0,395.0 224.3,398.5 226.5,401.5 228.8,403.7 231.1,403.7 233.3,405.0 235.6,404.6 237.8,404.1 240.1,403.2 242.3,400.5 244.6,394.4 246.8,392.4 249.1,394.7 251.3,397.0 253.6,395.6 255.9,393.6 258.1,394.2 260.4,393.1 262.6,389.3 264.9,394.4 267.1,393.3 269.4,390.2 271.6,393.5 273.9,388.3 276.1,391.6 278.4,382.4 280.7,381.5 282.9,383.0 285.2,387.4 287.4,380.8 289.7,379.6 291.9,381.7 294.2,386.3 296.4,393.8 298.7,396.6 300.9,391.7 303.2,390.9 305.5,382.2 307.7,383.8 310.0,390.8 312.2,392.8 314.5,386.1 316.7,381.5 319.0,386.9 321.2,390.6 323.5,398.6 325.7,400.3 328.0,390.9 330.3,378.3 332.5,374.5 334.8,374.6 337.0,380.6 339.3,382.3 341.5,374.9 343.8,379.5 346.0,390.3 348.3,401.0 350.5,399.4 352.8,393.6 355.1,392.2 357.3,391.2 359.6,391.0 361.8,383.9 364.1,383.2 366.3,385.8 368.6,383.0 370.8,386.1 373.1,394.4 375.3,397.5 377.6,397.8 379.9,393.5 382.1,385.3 384.4,388.8 386.6,388.7 388.9,390.3 391.1,394.8 393.4,396.2 395.6,400.3 397.9,400.2 400.1,398.9 402.4,395.9 404.7,389.9 406.9,392.6 409.2,392.6 411.4,385.9 413.7,391.4 415.9,389.9 418.2,392.4 420.4,390.1 422.7,387.1 424.9,384.4 427.2,378.7 429.5,378.3 431.7,390.9 434.0,386.3 436.2,376.9 438.5,390.4 440.7,396.3 443.0,392.7 445.2,388.7 447.5,375.2 449.7,375.3 452.0,380.2 454.3,383.0 456.5,385.9 458.8,376.6 461.0,375.6 463.3,374.5 465.5,386.8 467.8,394.1 470.0,383.9 472.3,375.2 474.5,387.4 476.8,404.9 479.1,385.9 481.3,385.2 483.6,368.5 485.8,384.6 488.1,401.9 490.3,395.5 492.6,413.6 494.8,424.5 497.1,426.7 499.3,412.2 501.6,396.7 503.9,391.6 506.1,399.6 508.4,369.0 510.6,399.7 512.9,394.9 515.1,371.1 517.4,427.2 519.6,427.2 521.9,427.2 524.1,427.2 526.4,427.2 528.7,427.2 530.9,427.2 533.2,427.2 535.4,427.2 537.7,427.2 539.9,427.2 542.2,427.2 544.4,427.2 546.7,427.2 548.9,427.2 551.2,427.2 553.5,427.2"/>
<polyline stroke="#9467bd" points="102.5,427.2 104.8,427.2 107.1,427.2 109.3,427.2 111.6,427.2 113.8,427.2 116.1,427.2 118.3,427.2 120.6,427.2 122.8,427.2 125.1,427.2 127.3,427.2 129.6,427.2 131.9,427.2 134.1,427.2 136.4,427.2 138.6,427.2 140.9,416.5 143.1,400.5 145.4,403.9 147.6,407.2 149.9,410.4 152.1,417.3 154.4,424.0 156.7,424.3 158.9,424.5 161.2,425.9 163.4,427.2 165.7,427.2 167.9,427.2 170.2,427.2 172.4,427.2 174.7,426.8 176.9,425.8 179.2,423.5 181.5,421.9 183.7,424.3 186.0,422.1 188.2,418.3 190.5,416.8 192.7,415.1 195.0,415.0 197.2,413.9 199.5,410.0 201.7,408.0 204.0,407.2 206.3,406.0 208.5,404.2 210.8,400.4 213.0,395.4 215.3,388.5 217.5,396.3 219.8,399.2 222.0,401.0 224.3,403.2 226.5,405.4 228.8,405.6 231.1,406.7 233.3,410.1 235.6,408.0 237.8,406.9 240.1,405.8 242.3,406.0 244.6,401.1 246.8,401.7 249.1,405.4 251.3,407.9 253.6,405.7 255.9,403.0 258.1,402.0 260.4,403.2 262.6,400.9 264.9,401.4 267.1,402.0 269.4,401.4 271.6,403.1 273.9,397.0 276.1,401.5 278.4,399.9 280.7,399.4 282.9,399.9 285.2,402.6 287.4,400.3 289.7,398.7 291.9,394.3 294.2,393.4 296.4,397.6 298.7,396.0 300.9,392.9 303.2,397.1 305.5,389.0 307.7,391.2 310.0,401.3 312.2,398.0 314.5,393.3 316.7,393.6 319.0,398.2 321.2,398.1 323.5,399.3 325.7,399.3 328.0,392.5 330.3,387.0 332.5,381.8 334.8,384.9 337.0,398.0 339.3,398.8 341.5,386.9 343.8,387.9 346.0,391.4 348.3,398.9 350.5,401.1 352.8,401.0 355.1,400.6 357.3,396.0 359.6,391.6 361.8,391.8 364.1,393.7 366.3,395.7 368.6,398.1 370.8,395.5 373.1,405.3 375.3,405.1 377.6,398.0 379.9,390.4 382.1,386.2 384.4,393.5 386.6,398.3 388.9,398.1 391.1,397.1 393.4,399.2 395.6,404.8 397.9,403.4 400.1,402.0 402.4,408.1 404.7,410.6 406.9,408.1 409.2,404.6 411.4,400.5 413.7,403.9 415.9,401.9 418.2,405.8 420.4,404.5 422.7,402.5 424.9,403.3 427.2,402.8 429.5,401.3 431.7,403.6 434.0,404.6 436.2,401.8 438.5,402.3 440.7,404.6 443.0,404.4 445.2,398.2 447.5,393.1 449.7,399.4 452.0,404.3 454.3,402.7 456.5,404.6 458.8,396.5 461.0,396.1 463.3,396.3 465.5,402.7 467.8,408.0 470.0,404.0 472.3,387.5 474.5,390.0 476.8,401.6 479.1,390.8 481.3,396.3 483.6,385.3 485.8,396.2 488.1,364.4 490.3,162.6 492.6,377.8 494.8,424.5 497.1,426.5 499.3,420.3 501.6,411.3 503.9,397.9 506.1,411.5 508.4,406.1 510.6,408.7 512.9,415.5 515.1,410.4 517.4,427.2 519.6,427.2 521.9,427.2 524.1,427.2 526.4,427.2 528.7,427.2 530.9,427.2 533.2,427.2 535.4,427.2 537.7,427.2 539.9,427.2 542.2,427.2 544.4,427.2 546.7,427.2 548.9,427.2 551.2,427.2 553.5,427.2"/>
<polyline stroke="#8c564b" points="102.5,427.2 104.8,427.2 107.1,427.2 109.3,427.2 111.6,427.2 113.8,427.2 116.1,427.2 118.3,427.2 120.6,427.2 122.8,427.2 125.1,427.2 127.3,427.2 129.6,427.2 131.9,427.2 134.1,427.2 136.4,427.2 138.6,427.2 140.9,427.2 143.1,427.2 145.4,427.2 147.6,427.2 149.9,427.2 152.1,427.2 154.4,427.2 156.7,427.2 158.9,427.2 161.2,427.2 163.4,427.2 165.7,427.2 167.9,427.2 170.2,427.2 172.4,427.2 174.7,426.9 176.9,425.8 179.2,424.5 181.5,423.0 183.7,423.9 186.0,422.6 188.2,420.8 190.5,420.3 192.7,416.6 195.0,411.8 197.2,414.3 199.5,416.6 201.7,415.8 204.0,414.8 206.3,413.4 208.5,414.8 210.8,414.3 213.0,410.0 215.3,403.1 217.5,408.9 219.8,410.3 222.0,407.6 224.3,403.8 226.5,402.5 228.8,400.7 231.1,397.9 233.3,391.2 235.6,380.8 237.8,393.4 240.1,397.5 242.3,399.0 244.6,400.3 246.8,400.3 249.1,402.9 251.3,407.1 253.6,406.9 255.9,408.3 258.1,408.3 260.4,402.6 262.6,399.1 264.9,399.2 267.1,400.0 269.4,400.8 271.6,402.5 273.9,400.4 276.1,402.4 278.4,394.9 280.7,395.1 282.9,397.2 285.2,399.4 287.4,395.0 289.7,396.2 291.9,399.9 294.2,398.1 296.4,398.7 298.7,390.5 300.9,386.4 303.2,392.7 305.5,392.4 307.7,392.8 310.0,395.7 312.2,395.9 314.5,398.5 316.7,407.1 319.0,408.2 321.2,402.7 323.5,401.2 325.7,399.6 328.0,391.5 330.3,385.6 332.5,383.5 334.8,393.4 337.0,400.0 339.3,400.0 341.5,393.4 343.8,398.8 346.0,402.8 348.3,406.1 350.5,404.2 352.8,404.3 355.1,403.2 357.3,392.0 359.6,393.4 361.8,397.5 364.1,397.3 366.3,398.6 368.6,401.2 370.8,399.4 373.1,407.4 375.3,408.2 377.6,406.6 379.9,401.2 382.1,390.1 384.4,400.1 386.6,405.9 388.9,404.6 391.1,402.9 393.4,401.4 395.6,405.1 397.9,408.1 400.1,406.2 402.4,407.6 404.7,406.9 406.9,402.9 409.2,403.3 411.4,407.1 413.7,410.8 415.9,405.2 418.2,404.0 420.4,399.7 422.7,398.0 424.9,401.6 427.2,401.8 429.5,394.9 431.7,393.0 434.0,390.8 436.2,386.0 438.5,395.1 440.7,397.7 443.0,399.6 445.2,397.1 447.5,393.3 449.7,393.7 452.0,390.6 454.3,392.2 456.5,400.6 458.8,388.9 461.0,391.9 463.3,393.0 465.5,401.8 467.8,405.1 470.0,401.7 472.3,391.5 474.5,390.6 476.8,399.9 479.1,390.9 481.3,401.1 483.6,399.7 485.8,393.1 488.1,404.9 490.3,408.3 492.6,413.6 494.8,424.5 497.1,426.6 499.3,417.2 501.6,401.2 503.9,377.8 506.1,394.2 508.4,363.9 510.6,399.0 512.9,403.6 515.1,392.8 517.4,427.2 519.6,427.2 521.9,427.2 524.1,427.2 526.4,427.2 528.7,427.2 530.9,427.2 533.2,427.2 535.4,427.2 537.7,427.2 539.9,427.2 542.2,427.2 544.4,427.2 546.7,427.2 548.9,427.2 551.2,427.2 553.5,427.2"/>
<polyline stroke="#e377c2" points="102.5,427.2 104.8,427.2 107.1,427.2 109.3,427.2 111.6,427.2 113.8,427.2 116.1,427.2 118.3,427.2 120.6,427.2 122.8,427.2 125.1,427.2 127.3,427.2 129.6,427.2 131.9,427.2 134.1,427.2 136.4,427.2 138.6,427.2 140.9,427.2 143.1,427.2 145.4,427.2 147.6,427.2 149.9,427.2 152.1,427.2 154.4,427.2 156.7,427.2 158.9,427.2 161.2,427.2 163.4,427.2 165.7,427.2 167.9,427.2 170.2,427.2 172.4,427.2 174.7,424.0 176.9,420.0 179.2,416.0 181.5,411.7 183.7,416.0 186.0,421.0 188.2,419.0 190.5,418.0 192.7,418.8 195.0,419.2 197.2,419.7 199.5,419.9 201.7,420.5 204.0,421.9 206.3,421.8 208.5,421.5 210.8,420.9 213.0,419.7 215.3,418.4 217.5,419.8 219.8,418.8 222.0,417.9 224.3,418.3 226.5,419.8 228.8,419.6 231.1,418.8 233.3,418.9 235.6,417.4 237.8,417.7 240.1,417.2 242.3,415.8 244.6,413.2 246.8,413.8 249.1,416.4 251.3,417.3 253.6,414.9 255.9,413.8 258.1,414.1 260.4,414.2 262.6,412.7 264.9,414.0 267.1,414.1 269.4,412.2 271.6,414.3 273.9,413.1 276.1,413.1 278.4,408.5 280.7,410.1 282.9,411.2 285.2,408.5 287.4,402.4 289.7,404.8 291.9,408.0 294.2,407.1 296.4,405.8 298.7,401.5 300.9,398.0 303.2,406.4 305.5,410.8 307.7,409.1 310.0,409.9 312.2,411.2 314.5,412.2 316.7,410.9 319.0,407.0 321.2,400.5 323.5,401.7 325.7,402.7 328.0,398.8 330.3,399.0 332.5,397.4 334.8,398.2 337.0,404.4 339.3,405.0 341.5,397.0 343.8,402.4 346.0,407.0 348.3,412.6 350.5,412.0 352.8,410.9 355.1,413.0 357.3,411.0 359.6,406.2 361.8,404.4 364.1,406.4 366.3,408.2 368.6,410.1 370.8,410.8 373.1,414.1 375.3,414.2 377.6,414.6 379.9,414.3 382.1,411.1 384.4,411.9 386.6,413.1 388.9,415.7 391.1,416.5 393.4,416.1 395.6,416.0 397.9,417.4 400.1,418.5 402.4,419.2 404.7,417.5 406.9,411.9 409.2,408.0 411.4,403.6 413.7,399.4 415.9,394.0 418.2,389.5 420.4,383.4 422.7,375.5 424.9,366.5 427.2,371.4 429.5,377.5 431.7,384.8 434.0,389.9 436.2,393.6 438.5,398.6 440.7,402.3 443.0,405.7 445.2,409.1 447.5,411.4 449.7,411.8 452.0,413.2 454.3,412.5 456.5,415.1 458.8,413.0 461.0,415.8 463.3,416.3 465.5,417.3 467.8,418.1 470.0,417.2 472.3,414.7 474.5,416.2 476.8,417.7 479.1,406.1 481.3,407.1 483.6,404.3 485.8,407.5 488.1,413.0 490.3,404.0 492.6,417.2 494.8,424.5 497.1,426.9 499.3,421.0 501.6,416.6 503.9,394.1 506.1,409.7 508.4,403.2 510.6,407.7 512.9,398.5 515.1,314.4 517.4,427.2 519.6,427.2 521.9,427.2 524.1,427.2 526.4,427.2 528.7,427.2 530.9,427.2 533.2,427.2 535.4,427.2 537.7,427.2 539.9,427.2 542.2,427.2 544.4,427.2 546.7,427.2 548.9,427.2 551.2,427.2 553.5,427.2"/>
<polyline stroke="#7f7f7f" points="102.5,427.2 104.8,427.2 107.1,427.2 109.3,427.2 111.6,427.2 113.8,427.2 116.1,427.2 118.3,427.2 120.6,427.2 122.8,427.2 125.1,427.2 127.3,427.2 129.6,427.2 131.9,427.2 134.1,427.2 136.4,427.2 138.6,427.2 140.9,411.6 143.1,388.2 145.4,393.1 147.6,398.0 149.9,402.6 152.1,412.8 154.4,422.5 156.7,422.9 158.9,423.3 161.2,425.3 163.4,427.2 165.7,427.2 167.9,427.2 170.2,427.2 172.4,427.2 174.7,426.9 176.9,425.9 179.2,424.9 181.5,424.3 183.7,425.7 186.0,424.6 188.2,423.1 190.5,422.5 192.7,420.5 195.0,419.3 197.2,420.5 199.5,421.5 201.7,420.3 204.0,419.5 206.3,418.4 208.5,419.1 210.8,420.2 213.0,421.0 215.3,418.0 217.5,417.6 219.8,415.6 222.0,415.4 224.3,416.4 226.5,417.0 228.8,417.0 231.1,416.4 233.3,414.9 235.6,412.0 237.8,415.1 240.1,414.9 242.3,412.7 244.6,411.0 246.8,409.5 249.1,408.8 251.3,412.3 253.6,413.7 255.9,414.5 258.1,413.7 260.4,410.5 262.6,408.6 264.9,409.0 267.1,409.9 269.4,407.3 271.6,410.5 273.9,411.8 276.1,413.5 278.4,405.7 280.7,404.9 282.9,405.4 285.2,406.9 287.4,406.2 289.7,404.1 291.9,404.2 294.2,405.9 296.4,408.4 298.7,408.1 300.9,406.1 303.2,408.7 305.5,407.5 307.7,406.7 310.0,407.4 312.2,408.1 314.5,409.8 316.7,408.3 319.0,410.9 321.2,410.9 323.5,411.3 325.7,409.6 328.0,406.7 330.3,403.7 332.5,400.7 334.8,403.6 337.0,407.2 339.3,406.2 341.5,400.4 343.8,406.1 346.0,412.4 348.3,415.1 350.5,414.8 352.8,412.0 355.1,412.2 357.3,410.3 359.6,406.9 361.8,403.2 364.1,404.7 366.3,404.5 368.6,403.0 370.8,404.4 373.1,410.3 375.3,411.6 377.6,409.5 379.9,406.7 382.1,403.8 384.4,406.3 386.6,408.9 388.9,408.9 391.1,409.0 393.4,413.5 395.6,417.7 397.9,416.2 400.1,414.9 402.4,410.0 404.7,403.5 406.9,398.8 409.2,393.7 411.4,387.9 413.7,382.0 415.9,376.3 418.2,385.2 420.4,389.4 422.7,393.4 424.9,397.9 427.2,401.4 429.5,403.2 431.7,407.6 434.0,411.3 436.2,410.3 438.5,414.1 440.7,415.9 443.0,416.4 445.2,416.6 447.5,413.6 449.7,413.2 452.0,415.5 454.3,416.6 456.5,417.7 458.8,415.1 461.0,416.1 463.3,416.5 465.5,419.7 467.8,421.6 470.0,420.4 472.3,416.9 474.5,416.6 476.8,420.8 479.1,420.7 481.3,421.2 483.6,422.2 485.8,422.7 488.1,402.4 490.3,397.0 492.6,406.9 494.8,424.5 497.1,427.0 499.3,421.8 501.6,411.4 503.9,408.7 506.1,410.0 508.4,400.0 510.6,415.9 512.9,415.4 515.1,395.7 517.4,427.2 519.6,427.2 521.9,427.2 524.1,427.2 526.4,427.2 528.7,427.2 530.9,427.2 533.2,427.2 535.4,427.2 537.7,427.2 539.9,427.2 542.2,427.2 544.4,427.2 546.7,427.2 548.9,427.2 551.2,427.2 553.5,427.2"/>
<polyline stroke="#bcbd22" points="102.5,427.2 104.8,427.2 107.1,427.2 109.3,427.2 111.6,427.2 113.8,427.2 116.1,427.2 118.3,427.2 120.6,427.2 122.8,427.2 125.1,427.2 127.3,427.2 129.6,427.2 131.9,427.2 134.1,427.2 136.4,427.2 138.6,427.2 140.9,423.1 143.1,416.9 145.4,418.2 147.6,419.5 149.9,420.7 152.1,423.4 154.4,426.0 156.7,426.1 158.9,426.2 161.2,426.7 163.4,427.2 165.7,427.2 167.9,427.2 170.2,427.2 172.4,427.2 174.7,426.9 176.9,426.2 179.2,425.1 181.5,424.0 183.7,425.0 186.0,424.1 188.2,422.1 190.5,421.9 192.7,420.2 195.0,417.8 197.2,419.2 199.5,419.6 201.7,419.7 204.0,421.3 206.3,420.4 208.5,419.9 210.8,421.1 213.0,419.9 215.3,415.2 217.5,414.1 219.8,413.0 222.0,413.8 224.3,415.6 226.5,415.5 228.8,415.9 231.1,416.5 233.3,414.7 235.6,411.8 237.8,415.1 240.1,416.2 242.3,415.2 244.6,409.6 246.8,407.3 249.1,410.5 251.3,413.4 253.6,412.1 255.9,409.7 258.1,411.4 260.4,413.3 262.6,409.6 264.9,408.6 267.1,409.6 269.4,408.7 271.6,411.0 273.9,408.1 276.1,410.1 278.4,404.9 280.7,402.2 282.9,401.3 285.2,404.5 287.4,399.9 289.7,403.6 291.9,405.1 294.2,405.9 296.4,405.2 298.7,398.2 300.9,391.3 303.2,398.9 305.5,402.1 307.7,403.4 310.0,404.6 312.2,404.0 314.5,400.8 316.7,400.9 319.0,404.2 321.2,401.9 323.5,402.3 325.7,402.2 328.0,395.1 330.3,393.1 332.5,398.2 334.8,405.7 337.0,407.2 339.3,405.3 341.5,397.5 343.8,399.5 346.0,401.8 348.3,404.5 350.5,400.8 352.8,403.0 355.1,409.6 357.3,403.7 359.6,400.0 361.8,404.5 364.1,406.5 366.3,405.2 368.6,404.4 370.8,403.0 373.1,410.2 375.3,411.3 377.6,412.5 379.9,410.8 382.1,404.4 384.4,405.7 386.6,406.1 388.9,403.3 391.1,402.1 393.4,404.9 395.6,410.0 397.9,412.2 400.1,413.1 402.4,413.0 404.7,415.1 406.9,414.5 409.2,412.9 411.4,411.1 413.7,411.7 415.9,412.2 418.2,413.5 420.4,411.6 422.7,408.8 424.9,407.1 427.2,404.1 429.5,403.7 431.7,409.6 434.0,407.3 436.2,398.7 438.5,404.0 440.7,409.0 443.0,409.7 445.2,407.9 447.5,402.7 449.7,407.1 452.0,409.2 454.3,406.9 456.5,408.3 458.8,401.9 461.0,407.1 463.3,410.6 465.5,412.7 467.8,414.1 470.0,409.4 472.3,398.9 474.5,400.3 476.8,410.7 479.1,409.4 481.3,409.2 483.6,408.8 485.8,409.8 488.1,405.7 490.3,417.2 492.6,422.2 494.8,426.7 497.1,426.9 499.3,425.8 501.6,424.4 503.9,420.9 506.1,424.2 508.4,423.8 510.6,424.0 512.9,425.0 515.1,421.8 517.4,427.2 519.6,427.2 521.9,427.2 524.1,427.2 526.4,427.2 528.7,427.2 530.9,427.2 533.2,427.2 535.4,427.2 537.7,427.2 539.9,427.2 542.2,427.2 544.4,427.2 546.7,427.2 548.9,427.2 551.2,427.2 553.5,427.2"/>
<polyline stroke="#17becf" points="102.5,427.2 104.8,427.2 107.1,427.2 109.3,427.2 111.6,427.2 113.8,427.2 116.1,427.2 118.3,427.2 120.6,427.2 122.8,427.2 125.1,427.2 127.3,427.2 129.6,427.2 131.9,427.2 134.1,427.2 136.4,427.2 138.6,427.2 140.9,424.6 143.1,420.7 145.4,421.5 147.6,422.3 149.9,423.1 152.1,424.8 154.4,426.4 156.7,426.5 158.9,426.6 161.2,426.9 163.4,427.2 165.7,427.2 167.9,427.2 170.2,427.2 172.4,427.2 174.7,426.8 176.9,425.5 179.2,423.9 181.5,422.7 183.7,424.0 186.0,422.2 188.2,420.5 190.5,419.3 192.7,414.8 195.0,412.6 197.2,414.5 199.5,414.9 201.7,413.5 204.0,414.0 206.3,415.3 208.5,417.3 210.8,417.1 213.0,412.8 215.3,406.8 217.5,412.3 219.8,412.2 222.0,411.5 224.3,412.3 226.5,412.4 228.8,411.7 231.1,409.6 233.3,407.7 235.6,405.6 237.8,409.0 240.1,408.6 242.3,408.0 244.6,406.4 246.8,407.3 249.1,408.3 251.3,411.0 253.6,408.9 255.9,405.7 258.1,406.1 260.4,407.6 262.6,406.5 264.9,407.2 267.1,405.7 269.4,398.8 271.6,401.4 273.9,401.6 276.1,402.8 278.4,398.8 280.7,400.9 282.9,398.6 285.2,399.7 287.4,400.9 289.7,404.7 291.9,406.1 294.2,408.4 296.4,407.1 298.7,403.6 300.9,403.7 303.2,406.0 305.5,401.4 307.7,404.4 310.0,403.7 312.2,401.1 314.5,400.5 316.7,404.8 319.0,403.4 321.2,398.7 323.5,405.0 325.7,410.6 328.0,407.7 330.3,399.4 332.5,390.7 334.8,393.8 337.0,400.7 339.3,397.6 341.5,386.5 343.8,395.0 346.0,403.3 348.3,406.0 350.5,405.0 352.8,402.4 355.1,401.9 357.3,397.4 359.6,395.3 361.8,390.8 364.1,390.0 366.3,393.5 368.6,397.8 370.8,399.3 373.1,406.6 375.3,407.3 377.6,402.9 379.9,398.8 382.1,394.4 384.4,397.7 386.6,400.0 388.9,399.6 391.1,399.3 393.4,397.9 395.6,396.6 397.9,394.3 400.1,391.6 402.4,386.1 404.7,381.7 406.9,385.5 409.2,388.7 411.4,391.3 413.7,394.4 415.9,395.8 418.2,397.7 420.4,398.9 422.7,399.3 424.9,403.7 427.2,405.5 429.5,402.6 431.7,406.2 434.0,405.4 436.2,400.1 438.5,402.4 440.7,403.5 443.0,405.1 445.2,403.0 447.5,400.7 449.7,407.0 452.0,410.5 454.3,410.2 456.5,410.9 458.8,408.1 461.0,409.0 463.3,404.8 465.5,403.8 467.8,406.4 470.0,404.3 472.3,392.6 474.5,390.8 476.8,403.0 479.1,406.8 481.3,411.0 483.6,408.9 485.8,405.7 488.1,410.5 490.3,414.8 492.6,417.9 494.8,426.5 497.1,426.6 499.3,424.3 501.6,423.6 503.9,424.9 506.1,423.3 508.4,424.9 510.6,424.5 512.9,425.0 515.1,423.9 517.4,427.2 519.6,427.2 521.9,427.2 524.1,427.2 526.4,427.2 528.7,427.2 530.9,427.2 533.2,427.2 535.4,427.2 537.7,427.2 539.9,427.2 542.2,427.2 544.4,427.2 546.7,427.2 548.9,427.2 551.2,427.2 553.5,427.2"/>
<polyline stroke="#1f77b4" points="102.5,427.2 104.8,427.2 107.1,427.2 109.3,427.2 111.6,427.2 113.8,427.2 116.1,427.2 118.3,427.2 120.6,427.2 122.8,427.2 125.1,427.2 127.3,427.2 129.6,427.2 131.9,427.2 134.1,427.2 136.4,427.2 138.6,427.2 140.9,425.3 143.1,422.4 145.4,423.0 147.6,423.6 149.9,424.2 152.1,425.4 154.4,426.6 156.7,426.7 158.9,426.7 161.2,427.0 163.4,427.2 165.7,427.2 167.9,427.2 170.2,427.2 172.4,427.2 174.7,427.0 176.9,426.5 179.2,425.8 181.5,425.5 183.7,426.0 186.0,425.6 188.2,424.7 190.5,424.3 192.7,423.4 195.0,422.8 197.2,423.1 199.5,423.0 201.7,422.7 204.0,422.1 206.3,420.7 208.5,420.9 210.8,420.8 213.0,419.6 215.3,416.1 217.5,417.5 219.8,417.4 222.0,417.5 224.3,417.6 226.5,417.8 228.8,419.3 231.1,419.3 233.3,418.0 235.6,415.7 237.8,416.5 240.1,415.8 242.3,416.3 244.6,415.1 246.8,415.1 249.1,417.5 251.3,417.2 253.6,416.1 255.9,414.2 258.1,414.9 260.4,415.2 262.6,415.2 264.9,415.8 267.1,414.5 269.4,412.6 271.6,414.7 273.9,413.0 276.1,414.3 278.4,413.5 280.7,413.0 282.9,412.7 285.2,414.6 287.4,414.3 289.7,414.7 291.9,414.9 294.2,415.0 296.4,413.7 298.7,410.3 300.9,406.9 303.2,411.0 305.5,411.3 307.7,413.2 310.0,415.5 312.2,415.8 314.5,414.6 316.7,414.8 319.0,415.9 321.2,415.8 323.5,414.8 325.7,415.6 328.0,415.2 330.3,413.6 332.5,413.2 334.8,414.3 337.0,414.0 339.3,413.2 341.5,411.5 343.8,412.0 346.0,413.4 348.3,411.6 350.5,410.9 352.8,412.4 355.1,414.1 357.3,412.3 359.6,410.8 361.8,410.3 364.1,411.4 366.3,412.1 368.6,414.4 370.8,414.9 373.1,415.4 375.3,414.8 377.6,414.9 379.9,413.3 382.1,410.8 384.4,411.9 386.6,413.4 388.9,414.6 391.1,414.5 393.4,415.7 395.6,416.2 397.9,417.2 400.1,419.3 402.4,420.4 404.7,420.6 406.9,421.2 409.2,420.9 411.4,420.3 413.7,420.2 415.9,420.5 418.2,421.2 420.4,421.5 422.7,420.5 424.9,419.4 427.2,419.5 429.5,419.5 431.7,419.6 434.0,419.0 436.2,417.7 438.5,418.9 440.7,419.9 443.0,421.4 445.2,421.9 447.5,420.6 449.7,421.1 452.0,421.5 454.3,421.3 456.5,421.6 458.8,422.3 461.0,422.8 463.3,423.7 465.5,424.7 467.8,425.1 470.0,424.8 472.3,423.6 474.5,423.0 476.8,418.7 479.1,407.7 481.3,412.9 483.6,404.9 485.8,412.3 488.1,409.3 490.3,398.9 492.6,408.0 494.8,424.5 497.1,426.9 499.3,412.5 501.6,376.7 503.9,355.4 506.1,377.8 508.4,376.3 510.6,383.1 512.9,397.1 515.1,355.4 517.4,427.2 519.6,427.2 521.9,427.2 524.1,427.2 526.4,427.2 528.7,427.2 530.9,427.2 533.2,427.2 535.4,427.2 537.7,427.2 539.9,427.2 542.2,427.2 544.4,427.2 546.7,427.2 548.9,427.2 551.2,427.2 553.5,427.2"/>
<polyline stroke="#ff7f0e" points="102.5,427.2 104.8,427.2 107.1,427.2 109.3,427.2 111.6,427.2 113.8,427.2 116.1,427.2 118.3,427.2 120.6,427.2 122.8,427.2 125.1,427.2 127.3,427.2 129.6,427.2 131.9,427.2 134.1,427.2 136.4,427.2 138.6,427.2 140.9,427.2 143.1,427.2 145.4,427.2 147.6,427.2 149.9,427.2 152.1,427.2 154.4,427.2 156.7,427.2 158.9,427.2 161.2,427.2 163.4,427.2 165.7,427.2 167.9,427.2 170.2,427.2 172.4,427.2 174.7,426.9 176.9,426.5 179.2,425.8 181.5,425.3 183.7,426.0 186.0,425.8 188.2,425.1 190.5,424.5 192.7,423.3 195.0,422.4 197.2,423.1 199.5,423.4 201.7,422.9 204.0,422.7 206.3,422.9 208.5,423.1 210.8,422.4 213.0,422.8 215.3,421.1 217.5,420.8 219.8,420.7 222.0,421.0 224.3,421.1 226.5,420.4 228.8,420.1 231.1,420.7 233.3,420.5 235.6,419.3 237.8,420.2 240.1,418.6 242.3,415.4 244.6,413.7 246.8,414.5 249.1,416.9 251.3,419.1 253.6,418.5 255.9,416.3 258.1,415.9 260.4,415.2 262.6,414.2 264.9,414.3 267.1,414.1 269.4,412.5 271.6,414.2 273.9,413.0 276.1,415.6 278.4,413.1 280.7,412.4 282.9,411.4 285.2,411.8 287.4,412.2 289.7,413.0 291.9,413.2 294.2,412.7 296.4,411.3 298.7,412.1 300.9,409.3 303.2,410.0 305.5,408.1 307.7,410.3 310.0,413.9 312.2,414.5 314.5,413.6 316.7,409.9 319.0,410.4 321.2,410.9 323.5,412.3 325.7,411.3 328.0,405.6 330.3,402.8 332.5,403.6 334.8,406.9 337.0,409.8 339.3,405.1 341.5,396.4 343.8,404.2 346.0,411.7 348.3,416.3 350.5,414.4 352.8,414.6 355.1,414.5 357.3,410.6 359.6,408.4 361.8,404.0 364.1,406.0 366.3,407.8 368.6,409.4 370.8,409.9 373.1,415.4 375.3,416.2 377.6,415.7 379.9,411.5 382.1,406.9 384.4,410.5 386.6,412.7 388.9,413.6 391.1,413.8 393.4,414.1 395.6,415.3 397.9,416.0 400.1,416.3 402.4,416.3 404.7,416.1 406.9,417.1 409.2,417.5 411.4,417.1 413.7,419.7 415.9,418.9 418.2,419.0 420.4,419.1 422.7,418.7 424.9,419.0 427.2,417.0 429.5,414.3 431.7,416.6 434.0,415.8 436.2,415.3 438.5,419.1 440.7,419.8 443.0,419.1 445.2,418.4 447.5,416.1 449.7,417.0 452.0,420.0 454.3,420.5 456.5,420.5 458.8,411.9 461.0,407.6 463.3,402.1 465.5,397.0 467.8,391.3 470.0,385.0 472.3,360.0 474.5,356.3 476.8,380.0 479.1,390.0 481.3,372.0 483.6,380.3 485.8,388.7 488.1,397.9 490.3,407.2 492.6,416.6 494.8,426.7 497.1,427.0 499.3,425.9 501.6,423.4 503.9,424.0 506.1,425.2 508.4,423.9 510.6,424.1 512.9,423.2 515.1,422.5 517.4,427.2 519.6,427.2 521.9,427.2 524.1,427.2 526.4,427.2 528.7,427.2 530.9,427.2 533.2,427.2 535.4,427.2 537.7,427.2 539.9,427.2 542.2,427.2 544.4,427.2 546.7,427.2 548.9,427.2 551.2,427.2 553.5,427.2"/>
<polyline stroke="#2ca02c" points="102.5,427.2 104.8,427.2 107.1,427.2 109.3,427.2 111.6,427.2 113.8,427.2 116.1,427.2 118.3,427.2 120.6,427.2 122.8,427.2 125.1,427.2 127.3,427.2 129.6,427.2 131.9,427.2 134.1,427.2 136.4,427.2 138.6,427.2 140.9,427.2 143.1,427.2 145.4,427.2 147.6,427.2 149.9,427.2 152.1,427.2 154.4,427.2 156.7,427.2 158.9,427.2 161.2,427.2 163.4,427.2 165.7,427.2 167.9,427.2 170.2,427.2 172.4,427.2 174.7,427.0 176.9,426.3 179.2,425.2 181.5,424.7 183.7,425.7 186.0,425.0 188.2,423.9 190.5,423.3 192.7,421.5 195.0,419.8 197.2,420.6 199.5,420.8 201.7,420.6 204.0,421.1 206.3,420.7 208.5,420.5 210.8,421.3 213.0,420.1 215.3,416.7 217.5,418.2 219.8,419.6 222.0,420.0 224.3,418.7 226.5,417.5 228.8,417.5 231.1,418.0 233.3,417.7 235.6,415.4 237.8,417.3 240.1,418.3 242.3,417.6 244.6,412.6 246.8,409.1 249.1,412.7 251.3,417.4 253.6,416.5 255.9,414.5 258.1,414.8 260.4,413.8 262.6,412.9 264.9,414.0 267.1,413.2 269.4,409.3 271.6,410.8 273.9,409.1 276.1,410.7 278.4,406.6 280.7,405.9 282.9,407.5 285.2,408.6 287.4,408.2 289.7,409.1 291.9,408.8 294.2,408.1 296.4,408.5 298.7,406.3 300.9,406.8 303.2,410.4 305.5,409.7 307.7,408.4 310.0,408.7 312.2,409.8 314.5,408.9 316.7,409.2 319.0,408.3 321.2,407.1 323.5,410.5 325.7,411.7 328.0,406.4 330.3,404.3 332.5,403.3 334.8,406.1 337.0,411.2 339.3,410.2 341.5,403.3 343.8,405.9 346.0,407.2 348.3,408.9 350.5,409.0 352.8,406.2 355.1,408.0 357.3,406.7 359.6,402.2 361.8,399.3 364.1,404.1 366.3,407.4 368.6,406.7 370.8,402.4 373.1,409.1 375.3,413.3 377.6,411.0 379.9,407.2 382.1,402.6 384.4,403.8 386.6,405.2 388.9,404.3 391.1,405.7 393.4,409.1 395.6,412.3 397.9,412.7 400.1,413.7 402.4,414.8 404.7,411.0 406.9,409.1 409.2,409.6 411.4,410.5 413.7,414.4 415.9,413.7 418.2,413.8 420.4,412.1 422.7,410.7 424.9,409.1 427.2,409.1 429.5,406.6 431.7,405.7 434.0,403.5 436.2,402.0 438.5,409.2 440.7,409.9 443.0,410.1 445.2,408.0 447.5,407.3 449.7,408.9 452.0,407.4 454.3,406.5 456.5,412.8 458.8,409.6 461.0,409.9 463.3,406.8 465.5,409.3 467.8,413.2 470.0,412.2 472.3,407.9 474.5,409.9 476.8,412.7 479.1,402.4 481.3,412.6 483.6,405.7 485.8,411.1 488.1,410.0 490.3,402.7 492.6,419.4 494.8,424.5 497.1,426.8 499.3,414.4 501.6,409.8 503.9,377.9 506.1,394.7 508.4,393.5 510.6,411.7 512.9,395.7 515.1,386.3 517.4,427.2 519.6,427.2 521.9,427.2 524.1,427.2 526.4,427.2 528.7,427.2 530.9,427.2 533.2,427.2 535.4,427.2 537.7,427.2 539.9,427.2 542.2,427.2 544.4,427.2 546.7,427.2 548.9,427.2 551.2,427.2 553.5,427.2"/>
<polyline stroke="#d62728" points="102.5,427.2 104.8,427.2 107.1,427.2 109.3,427.2 111.6,427.2 113.8,427.2 116.1,427.2 118.3,427.2 120.6,427.2 122.8,427.2 125.1,427.2 127.3,427.2 129.6,427.2 131.9,427.2 134.1,427.2 136.4,427.2 138.6,427.2 140.9,427.2 143.1,427.2 145.4,427.2 147.6,427.2 149.9,427.2 152.1,427.2 154.4,427.2 156.7,427.2 158.9,427.2 161.2,427.2 163.4,427.2 165.7,427.2 167.9,427.2 170.2,427.2 172.4,427.2 174.7,426.7 176.9,425.1 179.2,423.8 181.5,423.0 183.7,423.7 186.0,420.5 188.2,416.3 190.5,414.9 192.7,412.3 195.0,409.0 197.2,410.5 199.5,411.1 201.7,408.8 204.0,408.6 206.3,409.5 208.5,411.5 210.8,411.1 213.0,411.4 215.3,405.7 217.5,406.9 219.8,406.5 222.0,406.0 224.3,404.7 226.5,405.3 228.8,404.4 231.1,403.6 233.3,402.0 235.6,401.1 237.8,397.7 240.1,393.9 242.3,390.0 244.6,389.7 246.8,395.5 249.1,397.4 251.3,396.7 253.6,397.4 255.9,398.7 258.1,398.2 260.4,397.6 262.6,397.0 264.9,397.6 267.1,394.9 269.4,391.8 271.6,401.6 273.9,405.8 276.1,405.5 278.4,395.1 280.7,392.7 282.9,387.5 285.2,385.4 287.4,387.5 289.7,390.1 291.9,388.7 294.2,392.0 296.4,402.3 298.7,396.8 300.9,387.4 303.2,397.0 305.5,399.7 307.7,398.7 310.0,399.6 312.2,393.9 314.5,390.7 316.7,396.2 319.0,399.9 321.2,394.5 323.5,398.6 325.7,401.1 328.0,396.4 330.3,392.1 332.5,388.2 334.8,388.7 337.0,394.3 339.3,397.7 341.5,386.9 343.8,386.2 346.0,390.5 348.3,395.0 350.5,391.5 352.8,391.6 355.1,398.4 357.3,396.8 359.6,394.7 361.8,393.2 364.1,394.2 366.3,391.0 368.6,394.6 370.8,394.4 373.1,401.5 375.3,404.1 377.6,402.2 379.9,400.1 382.1,392.1 384.4,392.0 386.6,394.9 388.9,398.1 391.1,399.7 393.4,403.7 395.6,404.4 397.9,405.5 400.1,406.9 402.4,403.3 404.7,401.8 406.9,401.3 409.2,403.8 411.4,403.4 413.7,409.4 415.9,405.4 418.2,404.2 420.4,399.9 422.7,395.4 424.9,391.7 427.2,389.2 429.5,386.9 431.7,384.7 434.0,382.2 436.2,373.2 438.5,379.7 440.7,385.3 443.0,390.0 445.2,390.4 447.5,391.3 449.7,393.9 452.0,395.3 454.3,392.6 456.5,394.1 458.8,382.0 461.0,389.0 463.3,395.0 465.5,398.7 467.8,400.9 470.0,395.8 472.3,385.2 474.5,392.6 476.8,401.2 479.1,388.8 481.3,388.6 483.6,384.0 485.8,389.9 488.1,389.5 490.3,373.6 492.6,393.8 494.8,424.5 497.1,426.5 499.3,417.1 501.6,405.1 503.9,398.4 506.1,413.3 508.4,401.7 510.6,417.0 512.9,407.8 515.1,401.0 517.4,427.2 519.6,427.2 521.9,427.2 524.1,427.2 526.4,427.2 528.7,427.2 530.9,427.2 533.2,427.2 535.4,427.2 537.7,427.2 539.9,427.2 542.2,427.2 544.4,427.2 546.7,427.2 548.9,427.2 551.2,427.2 553.5,427.2"/>
<polyline stroke="#9467bd" points="102.5,427.2 104.8,427.2 107.1,427.2 109.3,427.2 111.6,427.2 113.8,427.2 116.1,427.2 118.3,427.2 120.6,427.2 122.8,427.2 125.1,427.2 127.3,427.2 129.6,427.2 131.9,427.2 134.1,427.2 136.4,427.2 138.6,427.2 140.9,427.2 143.1,427.2 145.4,427.2 147.6,427.2 149.9,427.2 152.1,427.2 154.4,427.2 156.7,427.2 158.9,427.2 161.2,427.2 163.4,427.2 165.7,427.2 167.9,427.2 170.2,427.2 172.4,427.2 174.7,426.9 176.9,425.6 179.2,424.2 181.5,423.1 183.7,424.9 186.0,423.6 188.2,421.5 190.5,421.6 192.7,419.6 195.0,415.6 197.2,415.8 199.5,416.8 201.7,417.1 204.0,418.3 206.3,417.8 208.5,418.0 210.8,419.1 213.0,418.2 215.3,413.7 217.5,416.6 219.8,417.7 222.0,416.6 224.3,415.8 226.5,417.2 228.8,416.0 231.1,413.9 233.3,414.0 235.6,413.1 237.8,416.4 240.1,416.2 242.3,413.9 244.6,412.2 246.8,410.1 249.1,411.2 251.3,414.4 253.6,413.5 255.9,411.4 258.1,411.6 260.4,410.3 262.6,408.0 264.9,409.6 267.1,412.4 269.4,410.7 271.6,412.9 273.9,413.3 276.1,415.7 278.4,409.2 280.7,405.3 282.9,405.5 285.2,409.4 287.4,408.1 289.7,406.9 291.9,406.5 294.2,409.2 296.4,411.9 298.7,409.3 300.9,402.3 303.2,403.0 305.5,403.2 307.7,405.3 310.0,407.4 312.2,408.4 314.5,404.7 316.7,401.2 319.0,403.8 321.2,405.3 323.5,409.6 325.7,409.2 328.0,402.8 330.3,400.6 332.5,398.8 334.8,403.0 337.0,408.7 339.3,407.7 341.5,398.7 343.8,403.8 346.0,407.8 348.3,408.1 350.5,408.2 352.8,412.5 355.1,413.0 357.3,407.4 359.6,404.9 361.8,400.9 364.1,399.8 366.3,400.4 368.6,403.1 370.8,409.2 373.1,415.6 375.3,415.4 377.6,412.2 379.9,407.9 382.1,404.7 384.4,409.2 386.6,411.0 388.9,411.4 391.1,411.6 393.4,412.3 395.6,411.1 397.9,412.9 400.1,415.5 402.4,415.0 404.7,412.6 406.9,412.7 409.2,412.2 411.4,411.2 413.7,411.7 415.9,411.6 418.2,415.1 420.4,414.7 422.7,411.6 424.9,408.3 427.2,409.3 429.5,409.1 431.7,411.3 434.0,409.0 436.2,407.5 438.5,411.4 440.7,412.7 443.0,413.0 445.2,409.8 447.5,408.8 449.7,410.4 452.0,409.7 454.3,411.5 456.5,416.7 458.8,405.2 461.0,399.8 463.3,395.0 465.5,389.4 467.8,382.9 470.0,375.8 472.3,364.1 474.5,375.3 476.8,388.8 479.1,379.5 481.3,359.6 483.6,371.8 485.8,390.5 488.1,391.5 490.3,393.9 492.6,403.3 494.8,424.5 497.1,426.7 499.3,413.3 501.6,391.0 503.9,267.9 506.1,398.9 508.4,371.5 510.6,395.1 512.9,399.4 515.1,375.3 517.4,427.2 519.6,427.2 521.9,427.2 524.1,427.2 526.4,427.2 528.7,427.2 530.9,427.2 533.2,427.2 535.4,427.2 537.7,427.2 539.9,427.2 542.2,427.2 544.4,427.2 546.7,427.2 548.9,427.2 551.2,427.2 553.5,427.2"/>
<polyline stroke="#8c564b" points="102.5,427.2 104.8,427.2 107.1,427.2 109.3,427.2 111.6,427.2 113.8,427.2 116.1,427.2 118.3,427.2 120.6,427.2 122.8,427.2 125.1,427.2 127.3,427.2 129.6,427.2 131.9,427.2 134.1,427.2 136.4,427.2 138.6,427.2 140.9,427.2 143.1,427.2 145.4,427.2 147.6,427.2 149.9,427.2 152.1,427.2 154.4,427.2 156.7,427.2 158.9,427.2 161.2,427.2 163.4,427.2 165.7,427.2 167.9,427.2 170.2,427.2 172.4,427.2 174.7,426.9 176.9,426.3 179.2,425.5 181.5,425.2 183.7,425.7 186.0,424.7 188.2,424.0 190.5,423.4 192.7,421.6 195.0,420.2 197.2,420.3 199.5,419.9 201.7,419.1 204.0,419.6 206.3,419.9 208.5,420.4 210.8,419.8 213.0,418.0 215.3,414.3 217.5,415.2 219.8,415.1 222.0,415.5 224.3,416.1 226.5,416.9 228.8,416.8 231.1,415.0 233.3,413.5 235.6,411.4 237.8,413.4 240.1,413.7 242.3,413.6 244.6,411.4 246.8,408.5 249.1,408.6 251.3,410.2 253.6,409.8 255.9,411.9 258.1,414.0 260.4,410.1 262.6,406.3 264.9,404.3 267.1,401.9 269.4,403.1 271.6,412.3 273.9,410.8 276.1,408.8 278.4,401.3 280.7,403.3 282.9,403.5 285.2,405.0 287.4,407.8 289.7,408.2 291.9,408.6 294.2,408.6 296.4,407.2 298.7,404.2 300.9,402.9 303.2,407.1 305.5,406.6 307.7,406.8 310.0,407.6 312.2,408.3 314.5,407.4 316.7,406.5 319.0,404.8 321.2,401.8 323.5,405.0 325.7,407.0 328.0,405.8 330.3,402.9 332.5,400.1 334.8,403.9 337.0,407.2 339.3,407.2 341.5,402.4 343.8,404.9 346.0,405.2 348.3,404.6 350.5,401.7 352.8,399.2 355.1,394.3 357.3,388.2 359.6,382.5 361.8,378.4 364.1,370.3 366.3,368.0 368.6,368.0 370.8,363.1 373.1,375.0 375.3,384.3 377.6,388.0 379.9,391.9 382.1,392.9 384.4,395.9 386.6,401.4 388.9,406.8 391.1,405.3 393.4,406.9 395.6,411.6 397.9,410.2 400.1,410.2 402.4,408.0 404.7,406.3 406.9,408.6 409.2,410.3 411.4,411.1 413.7,413.5 415.9,409.7 418.2,410.7 420.4,411.8 422.7,412.0 424.9,414.4 427.2,413.3 429.5,408.4 431.7,406.6 434.0,404.1 436.2,401.9 438.5,408.7 440.7,410.7 443.0,409.1 445.2,407.8 447.5,406.8 449.7,408.3 452.0,410.0 454.3,412.0 456.5,413.4 458.8,406.5 461.0,407.6 463.3,407.8 465.5,411.5 467.8,413.0 470.0,409.7 472.3,401.0 474.5,406.1 476.8,401.4 479.1,391.8 481.3,410.9 483.6,401.5 485.8,403.6 488.1,394.2 490.3,376.5 492.6,389.7 494.8,424.5 497.1,426.8 499.3,418.6 501.6,409.0 503.9,391.3 506.1,412.1 508.4,398.2 510.6,404.8 512.9,403.1 515.1,392.0 517.4,427.2 519.6,427.2 521.9,427.2 524.1,427.2 526.4,427.2 528.7,427.2 530.9,427.2 533.2,427.2 535.4,427.2 537.7,427.2 539.9,427.2 542.2,427.2 544.4,427.2 546.7,427.2 548.9,427.2 551.2,427.2 553.5,427.2"/>
<polyline stroke="#e377c2" points="102.5,427.2 104.8,427.2 107.1,427.2 109.3,427.2 111.6,427.2 113.8,427.2 116.1,427.2 118.3,427.2 120.6,427.2 122.8,427.2 125.1,427.2 127.3,427.2 129.6,427.2 131.9,427.2 134.1,427.2 136.4,427.2 138.6,427.2 140.9,427.2 143.1,427.2 145.4,427.2 147.6,427.2 149.9,427.2 152.1,427.2 154.4,427.2 156.7,427.2 158.9,427.2 161.2,427.2 163.4,427.2 165.7,427.2 167.9,427.2 170.2,427.2 172.4,427.2 174.7,426.9 176.9,426.3 179.2,425.2 181.5,423.9 183.7,425.3 186.0,424.6 188.2,423.8 190.5,423.1 192.7,420.2 195.0,417.0 197.2,418.1 199.5,418.7 201.7,418.3 204.0,421.2 206.3,420.7 208.5,418.3 210.8,416.4 213.0,415.0 215.3,414.6 217.5,418.1 219.8,418.5 222.0,417.5 224.3,416.2 226.5,416.6 228.8,416.4 231.1,415.2 233.3,414.5 235.6,410.6 237.8,412.3 240.1,413.8 242.3,413.6 244.6,410.6 246.8,408.8 249.1,412.5 251.3,414.6 253.6,412.9 255.9,408.3 258.1,402.1 260.4,398.2 262.6,394.7 264.9,391.2 267.1,387.5 269.4,382.5 271.6,384.7 273.9,377.1 276.1,388.1 278.4,390.4 280.7,392.8 282.9,395.1 285.2,398.6 287.4,400.3 289.7,402.7 291.9,403.6 294.2,400.8 296.4,403.0 298.7,406.5 300.9,406.9 303.2,403.5 305.5,398.3 307.7,402.7 310.0,404.8 312.2,403.8 314.5,403.1 316.7,404.2 319.0,405.0 321.2,403.0 323.5,405.5 325.7,406.7 328.0,402.8 330.3,395.2 332.5,392.6 334.8,399.5 337.0,407.9 339.3,408.4 341.5,396.2 343.8,401.2 346.0,407.9 348.3,404.2 350.5,399.1 352.8,400.8 355.1,402.4 357.3,396.3 359.6,398.0 361.8,402.1 364.1,399.6 366.3,402.7 368.6,401.4 370.8,398.1 373.1,409.6 375.3,413.0 377.6,408.4 379.9,406.1 382.1,402.1 384.4,399.2 386.6,400.7 388.9,401.4 391.1,401.5 393.4,402.4 395.6,404.3 397.9,408.7 400.1,410.8 402.4,408.4 404.7,405.2 406.9,406.1 409.2,408.0 411.4,406.2 413.7,408.7 415.9,407.3 418.2,406.4 420.4,403.2 422.7,397.9 424.9,395.9 427.2,401.0 429.5,403.2 431.7,404.2 434.0,402.2 436.2,397.4 438.5,399.5 440.7,402.8 443.0,406.9 445.2,406.4 447.5,398.3 449.7,397.4 452.0,401.4 454.3,402.6 456.5,404.5 458.8,395.3 461.0,399.7 463.3,404.6 465.5,410.4 467.8,410.0 470.0,406.1 472.3,395.7 474.5,396.6 476.8,410.2 479.1,392.1 481.3,407.2 483.6,405.7 485.8,406.3 488.1,382.8 490.3,398.8 492.6,405.4 494.8,424.5 497.1,426.7 499.3,415.3 501.6,401.8 503.9,406.5 506.1,404.3 508.4,398.5 510.6,412.0 512.9,408.6 515.1,394.9 517.4,427.2 519.6,427.2 521.9,427.2 524.1,427.2 526.4,427.2 528.7,427.2 530.9,427.2 533.2,427.2 535.4,427.2 537.7,427.2 539.9,427.2 542.2,427.2 544.4,427.2 546.7,427.2 548.9,427.2 551.2,427.2 553.5,427.2"/>
<polyline stroke="#7f7f7f" points="102.5,427.2 104.8,427.2 107.1,427.2 109.3,427.2 111.6,427.2 113.8,427.2 116.1,427.2 118.3,427.2 120.6,427.2 122.8,427.2 125.1,427.2 127.3,427.2 129.6,427.2 131.9,427.2 134.1,427.2 136.4,427.2 138.6,427.2 140.9,427.2 143.1,427.2 145.4,427.2 147.6,427.2 149.9,427.2 152.1,427.2 154.4,427.2 156.7,427.2 158.9,427.2 161.2,427.2 163.4,427.2 165.7,427.2 167.9,427.2 170.2,427.2 172.4,427.2 174.7,426.8 176.9,425.2 179.2,423.2 181.5,422.3 183.7,424.2 186.0,421.9 188.2,418.3 190.5,417.3 192.7,414.9 195.0,410.9 197.2,412.4 199.5,413.6 201.7,413.2 204.0,414.5 206.3,414.4 208.5,413.9 210.8,413.4 213.0,411.5 215.3,407.3 217.5,407.1 219.8,405.9 222.0,409.2 224.3,409.6 226.5,409.2 228.8,408.4 231.1,407.7 233.3,407.1 235.6,400.6 237.8,404.3 240.1,405.3 242.3,402.1 244.6,394.5 246.8,392.8 249.1,398.8 251.3,402.7 253.6,402.9 255.9,400.8 258.1,396.0 260.4,395.5 262.6,395.8 264.9,399.2 267.1,399.3 269.4,395.7 271.6,397.6 273.9,398.4 276.1,400.9 278.4,391.6 280.7,390.8 282.9,389.3 285.2,392.4 287.4,391.6 289.7,394.4 291.9,396.6 294.2,392.4 296.4,392.1 298.7,389.0 300.9,388.2 303.2,396.7 305.5,394.2 307.7,396.9 310.0,398.9 312.2,397.9 314.5,391.9 316.7,385.6 319.0,389.9 321.2,392.3 323.5,395.4 325.7,390.2 328.0,383.5 330.3,378.5 332.5,379.3 334.8,381.7 337.0,381.8 339.3,373.8 341.5,363.3 343.8,380.1 346.0,384.3 348.3,387.2 350.5,388.1 352.8,388.9 355.1,394.8 357.3,394.0 359.6,389.2 361.8,385.3 364.1,382.8 366.3,391.0 368.6,392.4 370.8,390.1 373.1,403.3 375.3,408.6 377.6,402.3 379.9,396.1 382.1,395.2 384.4,401.4 386.6,401.8 388.9,401.7 391.1,397.3 393.4,397.1 395.6,402.9 397.9,406.2 400.1,403.0 402.4,398.9 404.7,397.5 406.9,401.2 409.2,402.2 411.4,401.7 413.7,403.0 415.9,402.1 418.2,404.9 420.4,400.7 422.7,395.9 424.9,395.8 427.2,398.2 429.5,397.1 431.7,396.7 434.0,392.3 436.2,387.7 438.5,396.2 440.7,400.1 443.0,400.5 445.2,395.8 447.5,393.6 449.7,394.2 452.0,396.8 454.3,404.1 456.5,406.5 458.8,387.9 461.0,384.5 463.3,389.1 465.5,400.1 467.8,405.5 470.0,403.2 472.3,393.2 474.5,391.2 476.8,402.1 479.1,398.4 481.3,395.7 483.6,392.9 485.8,396.4 488.1,408.4 490.3,391.4 492.6,414.9 494.8,424.5 497.1,426.5 499.3,422.7 501.6,417.6 503.9,406.3 506.1,419.7 508.4,412.1 510.6,415.5 512.9,411.4 515.1,411.2 517.4,427.2 519.6,427.2 521.9,427.2 524.1,427.2 526.4,427.2 528.7,427.2 530.9,427.2 533.2,427.2 535.4,427.2 537.7,427.2 539.9,427.2 542.2,427.2 544.4,427.2 546.7,427.2 548.9,427.2 551.2,427.2 553.5,427.2"/>
<polyline stroke="#bcbd22" points="102.5,427.2 104.8,427.2 107.1,427.2 109.3,427.2 111.6,427.2 113.8,427.2 116.1,427.2 118.3,427.2 120.6,427.2 122.8,427.2 125.1,427.2 127.3,427.2 129.6,427.2 131.9,427.2 134.1,427.2 136.4,427.2 138.6,427.2 140.9,427.2 143.1,427.2 145.4,427.2 147.6,427.2 149.9,427.2 152.1,427.2 154.4,427.2 156.7,427.2 158.9,427.2 161.2,427.2 163.4,427.2 165.7,427.2 167.9,427.2 170.2,427.2 172.4,427.2 174.7,425.3 176.9,421.2 179.2,418.6 181.5,417.6 183.7,417.8 186.0,418.0 188.2,412.0 190.5,405.0 192.7,398.0 195.0,394.2 197.2,397.5 199.5,401.7 201.7,404.0 204.0,406.0 206.3,404.0 208.5,402.0 210.8,403.1 213.0,404.1 215.3,402.3 217.5,404.2 219.8,405.4 222.0,405.4 224.3,404.9 226.5,406.5 228.8,407.4 231.1,409.5 233.3,410.5 235.6,405.0 237.8,404.8 240.1,403.8 242.3,403.8 244.6,402.0 246.8,399.0 249.1,399.0 251.3,400.6 253.6,399.9 255.9,401.3 258.1,405.3 260.4,406.5 262.6,400.2 264.9,396.4 267.1,398.2 269.4,397.2 271.6,397.2 273.9,390.4 276.1,400.7 278.4,400.7 280.7,402.1 282.9,401.2 285.2,397.3 287.4,392.4 289.7,393.9 291.9,392.7 294.2,394.3 296.4,399.0 298.7,393.5 300.9,390.3 303.2,400.4 305.5,397.7 307.7,398.9 310.0,399.7 312.2,389.7 314.5,384.7 316.7,388.2 319.0,398.5 321.2,394.8 323.5,395.2 325.7,396.6 328.0,389.3 330.3,389.5 332.5,388.6 334.8,396.3 337.0,404.5 339.3,399.0 341.5,385.6 343.8,393.4 346.0,398.2 348.3,397.2 350.5,392.8 352.8,392.3 355.1,395.0 357.3,390.1 359.6,391.1 361.8,391.7 364.1,390.9 366.3,392.2 368.6,395.1 370.8,394.0 373.1,400.1 375.3,401.8 377.6,400.7 379.9,395.0 382.1,391.7 384.4,397.1 386.6,393.9 388.9,391.8 391.1,395.0 393.4,399.5 395.6,401.3 397.9,406.1 400.1,407.9 402.4,402.8 404.7,396.1 406.9,397.3 409.2,399.4 411.4,399.4 413.7,399.9 415.9,394.5 418.2,391.1 420.4,383.9 422.7,386.8 424.9,395.2 427.2,398.4 429.5,394.0 431.7,392.2 434.0,381.7 436.2,376.9 438.5,384.8 440.7,390.8 443.0,392.3 445.2,391.9 447.5,382.1 449.7,383.4 452.0,389.6 454.3,394.9 456.5,398.7 458.8,397.5 461.0,399.8 463.3,402.0 465.5,402.8 467.8,398.9 470.0,394.9 472.3,391.0 474.5,387.0 476.8,390.4 479.1,396.2 481.3,403.7 483.6,398.2 485.8,397.2 488.1,399.2 490.3,405.8 492.6,408.6 494.8,424.5 497.1,424.8 499.3,423.4 501.6,418.5 503.9,411.7 506.1,417.5 508.4,408.5 510.6,418.6 512.9,416.1 515.1,414.0 517.4,427.2 519.6,427.2 521.9,427.2 524.1,427.2 526.4,427.2 528.7,427.2 530.9,427.2 533.2,427.2 535.4,427.2 537.7,427.2 539.9,427.2 542.2,427.2 544.4,427.2 546.7,427.2 548.9,427.2 551.2,427.2 553.5,427.2"/>
<polyline stroke="#17becf" points="102.5,427.2 104.8,427.2 107.1,427.2 109.3,427.2 111.6,427.2 113.8,427.2 116.1,427.2 118.3,427.2 120.6,427.2 122.8,427.2 125.1,427.2 127.3,427.2 129.6,427.2 131.9,427.2 134.1,427.2 136.4,427.2 138.6,427.2 140.9,426.1 143.1,424.5 145.4,424.8 147.6,425.1 149.9,425.5 152.1,426.2 154.4,426.9 156.7,426.9 158.9,426.9 161.2,427.1 163.4,427.2 165.7,427.2 167.9,427.2 170.2,427.2 172.4,427.2 174.7,426.8 176.9,425.2 179.2,423.6 181.5,423.1 183.7,424.6 186.0,422.7 188.2,420.1 190.5,419.0 192.7,415.6 195.0,412.7 197.2,415.3 199.5,416.3 201.7,416.4 204.0,416.9 206.3,414.7 208.5,414.3 210.8,414.7 213.0,411.3 215.3,406.9 217.5,412.4 219.8,413.9 222.0,413.6 224.3,411.8 226.5,412.1 228.8,414.8 231.1,415.8 233.3,412.8 235.6,407.0 237.8,410.7 240.1,412.7 242.3,413.2 244.6,408.4 246.8,406.7 249.1,409.0 251.3,411.6 253.6,412.0 255.9,411.5 258.1,410.4 260.4,407.7 262.6,405.0 264.9,408.5 267.1,408.9 269.4,403.5 271.6,407.3 273.9,409.2 276.1,410.7 278.4,403.4 280.7,400.4 282.9,400.3 285.2,400.7 287.4,400.7 289.7,403.3 291.9,404.0 294.2,407.2 296.4,407.0 298.7,401.5 300.9,400.5 303.2,405.5 305.5,404.7 307.7,405.0 310.0,407.0 312.2,403.2 314.5,398.5 316.7,398.3 319.0,397.5 321.2,394.5 323.5,399.1 325.7,402.6 328.0,398.2 330.3,395.6 332.5,393.4 334.8,395.4 337.0,395.2 339.3,392.2 341.5,389.2 343.8,390.9 346.0,390.4 348.3,387.0 350.5,381.8 352.8,377.7 355.1,383.5 357.3,374.5 359.6,370.0 361.8,366.9 364.1,366.9 366.3,369.3 368.6,373.4 370.8,377.3 373.1,380.6 375.3,384.0 377.6,387.4 379.9,389.6 382.1,390.0 384.4,393.3 386.6,395.5 388.9,395.8 391.1,403.2 393.4,410.7 395.6,412.4 397.9,413.7 400.1,412.2 402.4,407.2 404.7,405.8 406.9,408.7 409.2,408.0 411.4,405.3 413.7,407.1 415.9,403.9 418.2,407.8 420.4,406.4 422.7,404.8 424.9,405.3 427.2,403.4 429.5,400.1 431.7,402.7 434.0,404.1 436.2,399.0 438.5,401.6 440.7,403.2 443.0,405.8 445.2,405.8 447.5,401.2 449.7,400.8 452.0,403.3 454.3,402.0 456.5,406.2 458.8,402.3 461.0,407.8 463.3,408.6 465.5,409.0 467.8,410.0 470.0,407.0 472.3,402.3 474.5,403.9 476.8,410.7 479.1,410.1 481.3,412.1 483.6,411.8 485.8,408.7 488.1,412.9 490.3,418.0 492.6,421.2 494.8,426.7 497.1,426.8 499.3,425.6 501.6,423.6 503.9,423.8 506.1,425.1 508.4,423.9 510.6,423.2 512.9,425.0 515.1,425.3 517.4,427.2 519.6,427.2 521.9,427.2 524.1,427.2 526.4,427.2 528.7,427.2 530.9,427.2 533.2,427.2 535.4,427.2 537.7,427.2 539.9,427.2 542.2,427.2 544.4,427.2 546.7,427.2 548.9,427.2 551.2,427.2 553.5,427.2"/>
<polyline stroke="#1f77b4" points="102.5,427.2 104.8,427.2 107.1,427.2 109.3,427.2 111.6,427.2 113.8,427.2 116.1,427.2 118.3,427.2 120.6,427.2 122.8,427.2 125.1,427.2 127.3,427.2 129.6,427.2 131.9,427.2 134.1,427.2 136.4,427.2 138.6,427.2 140.9,425.8 143.1,423.8 145.4,424.2 147.6,424.6 149.9,425.0 152.1,425.9 154.4,426.8 156.7,426.8 158.9,426.9 161.2,427.0 163.4,427.2 165.7,427.2 167.9,427.2 170.2,427.2 172.4,427.2 174.7,426.9 176.9,426.2 179.2,425.3 181.5,424.6 183.7,425.7 186.0,424.7 188.2,422.5 190.5,421.7 192.7,419.2 195.0,417.3 197.2,418.1 199.5,419.2 201.7,419.3 204.0,418.7 206.3,418.7 208.5,418.6 210.8,416.1 213.0,414.5 215.3,413.9 217.5,415.9 219.8,416.2 222.0,416.3 224.3,414.9 226.5,414.1 228.8,414.5 231.1,415.5 233.3,413.4 235.6,410.2 237.8,415.3 240.1,415.1 242.3,413.2 244.6,409.3 246.8,409.3 249.1,410.7 251.3,412.7 253.6,412.3 255.9,411.6 258.1,414.0 260.4,413.9 262.6,410.0 264.9,406.1 267.1,404.5 269.4,405.4 271.6,411.6 273.9,413.3 276.1,413.4 278.4,404.3 280.7,401.4 282.9,403.7 285.2,407.6 287.4,404.6 289.7,401.1 291.9,400.2 294.2,403.5 296.4,406.6 298.7,403.8 300.9,402.2 303.2,404.4 305.5,400.5 307.7,404.0 310.0,406.4 312.2,399.3 314.5,396.3 316.7,404.6 319.0,406.6 321.2,401.1 323.5,404.0 325.7,407.5 328.0,398.8 330.3,392.9 332.5,393.1 334.8,402.3 337.0,409.8 339.3,406.0 341.5,396.0 343.8,399.6 346.0,406.4 348.3,408.2 350.5,399.6 352.8,397.9 355.1,407.2 357.3,405.3 359.6,402.3 361.8,398.9 364.1,400.5 366.3,401.0 368.6,402.4 370.8,404.0 373.1,412.3 375.3,410.7 377.6,406.7 379.9,403.4 382.1,397.3 384.4,398.2 386.6,400.7 388.9,403.5 391.1,405.2 393.4,408.2 395.6,409.1 397.9,408.4 400.1,410.8 402.4,408.1 404.7,403.5 406.9,404.7 409.2,406.8 411.4,409.8 413.7,412.8 415.9,408.2 418.2,406.0 420.4,405.8 422.7,405.7 424.9,403.2 427.2,402.2 429.5,402.6 431.7,402.1 434.0,399.0 436.2,395.9 438.5,402.5 440.7,407.1 443.0,409.9 445.2,408.3 447.5,402.5 449.7,406.4 452.0,409.0 454.3,407.5 456.5,409.4 458.8,408.9 461.0,408.7 463.3,406.2 465.5,408.6 467.8,410.8 470.0,407.9 472.3,400.7 474.5,403.4 476.8,412.1 479.1,409.2 481.3,408.3 483.6,406.1 485.8,405.0 488.1,398.6 490.3,410.3 492.6,413.0 494.8,424.5 497.1,426.8 499.3,418.2 501.6,409.8 503.9,391.6 506.1,409.4 508.4,395.2 510.6,413.7 512.9,402.8 515.1,407.7 517.4,427.2 519.6,427.2 521.9,427.2 524.1,427.2 526.4,427.2 528.7,427.2 530.9,427.2 533.2,427.2 535.4,427.2 537.7,427.2 539.9,427.2 542.2,427.2 544.4,427.2 546.7,427.2 548.9,427.2 551.2,427.2 553.5,427.2"/>
<polyline stroke="#ff7f0e" points="102.5,427.2 104.8,427.2 107.1,427.2 109.3,427.2 111.6,427.2 113.8,427.2 116.1,427.2 118.3,427.2 120.6,427.2 122.8,427.2 125.1,427.2 127.3,427.2 129.6,427.2 131.9,427.2 134.1,427.2 136.4,427.2 138.6,427.2 140.9,427.2 143.1,427.2 145.4,427.2 147.6,427.2 149.9,427.2 152.1,427.2 154.4,427.2 156.7,427.2 158.9,427.2 161.2,427.2 163.4,427.2 165.7,427.2 167.9,427.2 170.2,427.2 172.4,427.2 174.7,426.9 176.9,426.5 179.2,425.9 181.5,425.3 183.7,426.0 186.0,425.6 188.2,424.5 190.5,423.9 192.7,422.7 195.0,421.1 197.2,421.8 199.5,421.7 201.7,420.8 204.0,421.7 206.3,421.7 208.5,421.5 210.8,421.0 213.0,420.0 215.3,418.3 217.5,419.8 219.8,420.2 222.0,421.3 224.3,421.1 226.5,421.1 228.8,420.0 231.1,419.1 233.3,420.1 235.6,419.9 237.8,420.3 240.1,420.4 242.3,419.5 244.6,418.1 246.8,417.5 249.1,418.2 251.3,419.1 253.6,419.2 255.9,418.9 258.1,418.2 260.4,418.5 262.6,416.4 264.9,415.4 267.1,416.1 269.4,415.9 271.6,415.3 273.9,414.3 276.1,416.0 278.4,414.2 280.7,413.8 282.9,416.2 285.2,416.0 287.4,415.7 289.7,413.8 291.9,412.8 294.2,413.0 296.4,414.4 298.7,414.8 300.9,413.5 303.2,413.9 305.5,412.0 307.7,413.4 310.0,414.3 312.2,414.9 314.5,414.0 316.7,411.2 319.0,411.6 321.2,412.2 323.5,415.1 325.7,413.9 328.0,412.5 330.3,408.8 332.5,407.8 334.8,411.5 337.0,411.9 339.3,407.1 341.5,401.9 343.8,408.1 346.0,413.3 348.3,413.3 350.5,413.6 352.8,413.8 355.1,412.0 357.3,407.3 359.6,407.3 361.8,406.5 364.1,408.9 366.3,411.0 368.6,407.5 370.8,404.1 373.1,411.7 375.3,413.9 377.6,412.4 379.9,410.7 382.1,408.3 384.4,409.6 386.6,410.9 388.9,410.7 391.1,411.3 393.4,412.7 395.6,414.7 397.9,416.2 400.1,416.2 402.4,416.9 404.7,414.5 406.9,412.9 409.2,414.0 411.4,415.5 413.7,417.7 415.9,416.9 418.2,417.1 420.4,416.4 422.7,414.2 424.9,414.1 427.2,415.2 429.5,414.1 431.7,415.1 434.0,414.1 436.2,413.2 438.5,415.7 440.7,414.9 443.0,414.4 445.2,413.6 447.5,412.3 449.7,414.8 452.0,416.6 454.3,417.5 456.5,419.2 458.8,417.0 461.0,418.0 463.3,419.3 465.5,421.6 467.8,421.9 470.0,420.6 472.3,418.2 474.5,419.8 476.8,422.8 479.1,422.0 481.3,414.6 483.6,411.5 485.8,412.4 488.1,405.7 490.3,415.2 492.6,420.6 494.8,426.0 497.1,427.0 499.3,423.8 501.6,422.8 503.9,415.7 506.1,423.0 508.4,420.7 510.6,419.8 512.9,420.5 515.1,414.6 517.4,427.2 519.6,427.2 521.9,427.2 524.1,427.2 526.4,427.2 528.7,427.2 530.9,427.2 533.2,427.2 535.4,427.2 537.7,427.2 539.9,427.2 542.2,427.2 544.4,427.2 546.7,427.2 548.9,427.2 551.2,427.2 553.5,427.2"/>
<polyline stroke="#2ca02c" points="102.5,427.2 104.8,427.2 107.1,427.2 109.3,427.2 111.6,427.2 113.8,427.2 116.1,427.2 118.3,427.2 120.6,427.2 122.8,427.2 125.1,427.2 127.3,427.2 129.6,427.2 131.9,427.2 134.1,427.2 136.4,427.2 138.6,427.2 140.9,427.2 143.1,427.2 145.4,427.2 147.6,427.2 149.9,427.2 152.1,427.2 154.4,427.2 156.7,427.2 158.9,427.2 161.2,427.2 163.4,427.2 165.7,427.2 167.9,427.2 170.2,427.2 172.4,427.2 174.7,426.9 176.9,425.9 179.2,424.6 181.5,422.8 183.7,423.9 186.0,422.9 188.2,421.5 190.5,420.6 192.7,416.7 195.0,413.3 197.2,415.6 199.5,416.0 201.7,414.6 204.0,416.0 206.3,415.8 208.5,414.3 210.8,413.1 213.0,413.4 215.3,411.2 217.5,411.8 219.8,411.5 222.0,409.1 224.3,409.7 226.5,411.0 228.8,411.2 231.1,410.4 233.3,409.6 235.6,406.9 237.8,411.7 240.1,413.2 242.3,411.1 244.6,407.7 246.8,405.9 249.1,408.4 251.3,413.2 253.6,412.8 255.9,410.9 258.1,412.8 260.4,413.3 262.6,411.2 264.9,410.6 267.1,410.9 269.4,408.8 271.6,410.2 273.9,409.1 276.1,411.4 278.4,408.5 280.7,409.2 282.9,410.2 285.2,409.1 287.4,402.7 289.7,402.5 291.9,405.8 294.2,407.1 296.4,407.2 298.7,405.1 300.9,406.6 303.2,412.8 305.5,409.8 307.7,408.8 310.0,408.8 312.2,407.7 314.5,406.9 316.7,406.0 319.0,408.4 321.2,407.1 323.5,406.6 325.7,406.0 328.0,400.2 330.3,396.9 332.5,399.2 334.8,404.4 337.0,408.6 339.3,406.0 341.5,401.1 343.8,405.2 346.0,405.6 348.3,409.2 350.5,407.1 352.8,403.3 355.1,404.2 357.3,402.0 359.6,398.7 361.8,394.2 364.1,398.8 366.3,402.6 368.6,403.0 370.8,404.0 373.1,409.9 375.3,411.5 377.6,409.2 379.9,407.8 382.1,400.4 384.4,400.7 386.6,402.6 388.9,401.0 391.1,399.1 393.4,404.5 395.6,410.0 397.9,410.0 400.1,409.6 402.4,412.0 404.7,413.0 406.9,412.2 409.2,412.3 411.4,412.0 413.7,413.2 415.9,406.5 418.2,407.0 420.4,405.8 422.7,403.9 424.9,403.0 427.2,405.1 429.5,405.3 431.7,406.8 434.0,402.9 436.2,396.0 438.5,401.9 440.7,408.0 443.0,410.2 445.2,406.6 447.5,403.8 449.7,406.7 452.0,407.1 454.3,404.4 456.5,407.7 458.8,405.5 461.0,409.6 463.3,406.9 465.5,407.6 467.8,410.5 470.0,408.2 472.3,400.4 474.5,402.9 476.8,412.1 479.1,404.7 481.3,404.1 483.6,385.6 485.8,405.8 488.1,410.7 490.3,411.1 492.6,417.3 494.8,424.5 497.1,426.7 499.3,409.6 501.6,385.7 503.9,369.2 506.1,400.5 508.4,391.7 510.6,389.4 512.9,384.0 515.1,367.8 517.4,427.2 519.6,427.2 521.9,427.2 524.1,427.2 526.4,427.2 528.7,427.2 530.9,427.2 533.2,427.2 535.4,427.2 537.7,427.2 539.9,427.2 542.2,427.2 544.4,427.2 546.7,427.2 548.9,427.2 551.2,427.2 553.5,427.2"/>
<polyline stroke="#d62728" points="102.5,427.2 104.8,427.2 107.1,427.2 109.3,427.2 111.6,427.2 113.8,427.2 116.1,427.2 118.3,427.2 120.6,427.2 122.8,427.2 125.1,427.2 127.3,427.2 129.6,427.2 131.9,427.2 134.1,427.2 136.4,427.2 138.6,427.2 140.9,427.2 143.1,427.2 145.4,427.2 147.6,427.2 149.9,427.2 152.1,427.2 154.4,427.2 156.7,427.2 158.9,427.2 161.2,427.2 163.4,427.2 165.7,427.2 167.9,427.2 170.2,427.2 172.4,427.2 174.7,426.9 176.9,426.1 179.2,425.2 181.5,424.5 183.7,425.2 186.0,424.4 188.2,423.2 190.5,422.4 192.7,420.7 195.0,419.3 197.2,420.4 199.5,421.9 201.7,421.8 204.0,421.6 206.3,421.3 208.5,420.7 210.8,420.5 213.0,419.3 215.3,417.5 217.5,419.2 219.8,418.9 222.0,418.5 224.3,419.6 226.5,420.2 228.8,418.6 231.1,418.3 233.3,418.1 235.6,416.2 237.8,418.9 240.1,419.5 242.3,418.0 244.6,414.4 246.8,412.1 249.1,413.5 251.3,416.0 253.6,414.6 255.9,411.4 258.1,412.1 260.4,413.8 262.6,414.2 264.9,413.7 267.1,412.5 269.4,412.2 271.6,415.1 273.9,413.9 276.1,413.3 278.4,407.9 280.7,407.5 282.9,407.5 285.2,407.8 287.4,408.0 289.7,412.7 291.9,411.6 294.2,409.8 296.4,411.2 298.7,411.8 300.9,407.2 303.2,406.8 305.5,406.3 307.7,407.5 310.0,407.5 312.2,407.5 314.5,408.9 316.7,409.0 319.0,409.7 321.2,406.2 323.5,406.8 325.7,407.4 328.0,407.0 330.3,408.1 332.5,404.7 334.8,406.4 337.0,407.3 339.3,404.0 341.5,398.1 343.8,403.9 346.0,407.3 348.3,408.1 350.5,405.5 352.8,405.5 355.1,405.3 357.3,399.2 359.6,393.7 361.8,390.0 364.1,387.9 366.3,384.1 368.6,378.3 370.8,374.1 373.1,383.4 375.3,389.9 377.6,392.1 379.9,382.8 382.1,375.5 384.4,386.8 386.6,392.6 388.9,393.2 391.1,387.8 393.4,389.6 395.6,392.0 397.9,394.7 400.1,392.1 402.4,388.9 404.7,392.0 406.9,391.7 409.2,387.0 411.4,379.6 413.7,390.9 415.9,393.8 418.2,396.8 420.4,399.4 422.7,401.7 424.9,405.2 427.2,407.8 429.5,408.5 431.7,410.0 434.0,408.0 436.2,405.7 438.5,409.7 440.7,411.5 443.0,412.1 445.2,410.8 447.5,410.4 449.7,414.0 452.0,414.3 454.3,409.6 456.5,412.6 458.8,409.5 461.0,413.2 463.3,414.8 465.5,415.9 467.8,416.2 470.0,416.2 472.3,412.3 474.5,411.2 476.8,416.9 479.1,416.1 481.3,415.3 483.6,412.5 485.8,413.5 488.1,403.1 490.3,411.3 492.6,420.4 494.8,424.5 497.1,426.9 499.3,414.8 501.6,405.1 503.9,394.4 506.1,412.4 508.4,393.9 510.6,409.5 512.9,402.4 515.1,381.0 517.4,427.2 519.6,427.2 521.9,427.2 524.1,427.2 526.4,427.2 528.7,427.2 530.9,427.2 533.2,427.2 535.4,427.2 537.7,427.2 539.9,427.2 542.2,427.2 544.4,427.2 546.7,427.2 548.9,427.2 551.2,427.2 553.5,427.2"/>
<polyline stroke="#9467bd" points="102.5,427.2 104.8,427.2 107.1,427.2 109.3,427.2 111.6,427.2 113.8,427.2 116.1,427.2 118.3,427.2 120.6,427.2 122.8,427.2 125.1,427.2 127.3,427.2 129.6,427.2 131.9,427.2 134.1,427.2 136.4,427.2 138.6,427.2 140.9,427.2 143.1,427.2 145.4,427.2 147.6,427.2 149.9,427.2 152.1,427.2 154.4,427.2 156.7,427.2 158.9,427.2 161.2,427.2 163.4,427.2 165.7,427.2 167.9,427.2 170.2,427.2 172.4,427.2 174.7,426.9 176.9,426.2 179.2,425.4 181.5,425.0 183.7,426.0 186.0,425.5 188.2,424.3 190.5,423.6 192.7,422.7 195.0,423.2 197.2,423.9 199.5,423.7 201.7,422.4 204.0,423.1 206.3,423.2 208.5,423.0 210.8,422.9 213.0,423.0 215.3,421.7 217.5,421.5 219.8,420.8 222.0,421.2 224.3,421.3 226.5,420.7 228.8,420.9 231.1,420.8 233.3,419.6 235.6,416.8 237.8,418.4 240.1,418.5 242.3,418.9 244.6,417.2 246.8,415.6 249.1,416.2 251.3,419.0 253.6,418.8 255.9,415.7 258.1,413.6 260.4,413.4 262.6,415.6 264.9,415.9 267.1,412.4 269.4,410.8 271.6,414.2 273.9,412.1 276.1,412.0 278.4,409.8 280.7,411.7 282.9,410.4 285.2,409.3 287.4,405.4 289.7,405.7 291.9,407.4 294.2,408.8 296.4,411.5 298.7,410.1 300.9,408.3 303.2,413.8 305.5,415.0 307.7,413.0 310.0,410.2 312.2,408.7 314.5,407.0 316.7,404.5 319.0,406.9 321.2,406.1 323.5,407.2 325.7,410.1 328.0,409.6 330.3,406.2 332.5,403.1 334.8,405.7 337.0,409.3 339.3,407.5 341.5,401.5 343.8,406.8 346.0,411.6 348.3,414.0 350.5,413.9 352.8,415.0 355.1,415.2 357.3,411.6 359.6,409.5 361.8,406.2 364.1,407.7 366.3,411.4 368.6,414.4 370.8,414.3 373.1,417.0 375.3,416.2 377.6,414.1 379.9,412.4 382.1,409.9 384.4,411.1 386.6,411.9 388.9,413.0 391.1,414.9 393.4,417.5 395.6,419.0 397.9,419.2 400.1,419.2 402.4,419.7 404.7,419.6 406.9,420.4 409.2,421.3 411.4,421.5 413.7,421.1 415.9,420.7 418.2,420.7 420.4,420.4 422.7,420.4 424.9,420.0 427.2,420.6 429.5,420.9 431.7,421.1 434.0,419.1 436.2,416.8 438.5,419.0 440.7,420.0 443.0,420.1 445.2,419.0 447.5,418.7 449.7,419.4 452.0,418.6 454.3,417.9 456.5,420.6 458.8,419.9 461.0,420.2 463.3,420.0 465.5,421.0 467.8,422.2 470.0,421.4 472.3,418.1 474.5,418.2 476.8,421.3 479.1,416.2 481.3,413.8 483.6,399.1 485.8,410.4 488.1,420.2 490.3,413.1 492.6,420.4 494.8,424.9 497.1,426.9 499.3,407.3 501.6,389.2 503.9,374.9 506.1,380.6 508.4,296.6 510.6,383.4 512.9,374.4 515.1,355.4 517.4,427.2 519.6,427.2 521.9,427.2 524.1,427.2 526.4,427.2 528.7,427.2 530.9,427.2 533.2,427.2 535.4,427.2 537.7,427.2 539.9,427.2 542.2,427.2 544.4,427.2 546.7,427.2 548.9,427.2 551.2,427.2 553.5,427.2"/>
<polyline stroke="#8c564b" points="102.5,427.2 104.8,427.2 107.1,427.2 109.3,427.2 111.6,427.2 113.8,427.2 116.1,427.2 118.3,427.2 120.6,427.2 122.8,427.2 125.1,427.2 127.3,427.2 129.6,427.2 131.9,427.2 134.1,427.2 136.4,427.2 138.6,427.2 140.9,427.2 143.1,427.2 145.4,427.2 147.6,427.2 149.9,427.2 152.1,427.2 154.4,427.2 156.7,427.2 158.9,427.2 161.2,427.2 163.4,427.2 165.7,427.2 167.9,427.2 170.2,427.2 172.4,427.2 174.7,426.9 176.9,426.2 179.2,425.3 181.5,424.6 183.7,425.3 186.0,424.5 188.2,423.6 190.5,423.6 192.7,422.1 195.0,420.1 197.2,421.4 199.5,421.9 201.7,422.0 204.0,422.5 206.3,422.0 208.5,421.5 210.8,422.2 213.0,422.4 215.3,420.9 217.5,421.3 219.8,420.8 222.0,420.1 224.3,419.4 226.5,420.6 228.8,420.6 231.1,419.1 233.3,417.4 235.6,416.4 237.8,418.2 240.1,417.7 242.3,418.3 244.6,416.0 246.8,414.3 249.1,414.7 251.3,416.1 253.6,416.2 255.9,415.8 258.1,415.9 260.4,415.8 262.6,414.5 264.9,413.8 267.1,412.0 269.4,409.2 271.6,413.0 273.9,414.0 276.1,414.7 278.4,410.2 280.7,407.7 282.9,408.7 285.2,412.6 287.4,411.7 289.7,410.4 291.9,411.9 294.2,412.5 296.4,411.2 298.7,411.6 300.9,408.7 303.2,409.4 305.5,405.9 307.7,407.2 310.0,410.0 312.2,411.7 314.5,411.7 316.7,413.1 319.0,414.0 321.2,412.7 323.5,410.7 325.7,410.8 328.0,410.0 330.3,406.9 332.5,406.5 334.8,409.0 337.0,411.6 339.3,409.6 341.5,404.0 343.8,408.7 346.0,413.5 348.3,411.9 350.5,410.4 352.8,413.0 355.1,413.6 357.3,414.1 359.6,411.4 361.8,408.6 364.1,408.5 366.3,409.0 368.6,410.9 370.8,412.5 373.1,411.3 375.3,411.1 377.6,412.1 379.9,409.9 382.1,409.1 384.4,411.3 386.6,410.7 388.9,408.4 391.1,412.5 393.4,414.9 395.6,414.3 397.9,415.7 400.1,419.3 402.4,419.4 404.7,418.3 406.9,415.1 409.2,414.4 411.4,415.7 413.7,418.2 415.9,415.5 418.2,415.2 420.4,414.3 422.7,413.4 424.9,411.8 427.2,413.4 429.5,412.5 431.7,411.8 434.0,408.6 436.2,405.4 438.5,407.8 440.7,410.2 443.0,413.1 445.2,412.5 447.5,412.0 449.7,413.4 452.0,411.9 454.3,411.0 456.5,411.2 458.8,408.4 461.0,408.3 463.3,405.7 465.5,403.2 467.8,400.5 470.0,394.9 472.3,391.2 474.5,395.2 476.8,402.0 479.1,404.0 481.3,409.5 483.6,406.0 485.8,408.2 488.1,401.0 490.3,388.8 492.6,415.6 494.8,424.5 497.1,426.9 499.3,417.5 501.6,411.8 503.9,382.8 506.1,411.9 508.4,395.6 510.6,400.4 512.9,403.9 515.1,396.9 517.4,427.2 519.6,427.2 521.9,427.2 524.1,427.2 526.4,427.2 528.7,427.2 530.9,427.2 533.2,427.2 535.4,427.2 537.7,427.2 539.9,427.2 542.2,427.2 544.4,427.2 546.7,427.2 548.9,427.2 551.2,427.2 553.5,427.2"/>
<polyline stroke="#e377c2" points="102.5,427.2 104.8,427.2 107.1,427.2 109.3,427.2 111.6,427.2 113.8,427.2 116.1,427.2 118.3,427.2 120.6,427.2 122.8,427.2 125.1,427.2 127.3,427.2 129.6,427.2 131.9,427.2 134.1,427.2 136.4,427.2 138.6,427.2 140.9,427.2 143.1,427.2 145.4,427.2 147.6,427.2 149.9,427.2 152.1,427.2 154.4,427.2 156.7,427.2 158.9,427.2 161.2,427.2 163.4,427.2 165.7,427.2 167.9,427.2 170.2,427.2 172.4,427.2 174.7,426.9 176.9,426.0 179.2,425.4 181.5,424.9 183.7,425.9 186.0,424.8 188.2,422.3 190.5,421.0 192.7,418.6 195.0,417.6 197.2,417.9 199.5,417.0 201.7,415.5 204.0,415.5 206.3,416.6 208.5,417.5 210.8,417.1 213.0,415.1 215.3,411.6 217.5,414.1 219.8,414.4 222.0,414.5 224.3,415.7 226.5,416.2 228.8,414.9 231.1,415.0 233.3,414.4 235.6,411.2 237.8,414.2 240.1,414.1 242.3,410.9 244.6,407.3 246.8,408.5 249.1,410.4 251.3,410.8 253.6,408.7 255.9,407.9 258.1,409.4 260.4,410.5 262.6,408.0 264.9,408.0 267.1,409.2 269.4,406.3 271.6,409.7 273.9,409.2 276.1,409.1 278.4,404.2 280.7,404.9 282.9,405.3 285.2,403.7 287.4,398.6 289.7,395.3 291.9,391.2 294.2,387.2 296.4,383.6 298.7,378.0 300.9,383.3 303.2,386.2 305.5,390.2 307.7,394.7 310.0,397.9 312.2,399.0 314.5,400.7 316.7,397.8 319.0,398.8 321.2,395.4 323.5,400.1 325.7,404.2 328.0,402.0 330.3,397.4 332.5,393.6 334.8,397.8 337.0,401.6 339.3,399.1 341.5,388.6 343.8,396.5 346.0,402.9 348.3,404.4 350.5,402.0 352.8,401.1 355.1,405.3 357.3,403.8 359.6,400.2 361.8,397.6 364.1,398.2 366.3,400.5 368.6,406.5 370.8,406.0 373.1,409.6 375.3,410.4 377.6,410.0 379.9,408.3 382.1,406.7 384.4,410.4 386.6,409.4 388.9,406.8 391.1,408.9 393.4,411.0 395.6,413.5 397.9,412.8 400.1,412.7 402.4,413.2 404.7,412.6 406.9,412.1 409.2,412.0 411.4,413.6 413.7,416.6 415.9,411.3 418.2,410.9 420.4,410.5 422.7,411.9 424.9,415.1 427.2,411.2 429.5,406.6 431.7,406.0 434.0,403.9 436.2,401.8 438.5,405.9 440.7,408.0 443.0,409.0 445.2,407.2 447.5,401.7 449.7,403.2 452.0,405.0 454.3,403.0 456.5,406.2 458.8,403.1 461.0,408.2 463.3,408.8 465.5,410.9 467.8,413.4 470.0,412.7 472.3,405.8 474.5,404.3 476.8,412.9 479.1,412.2 481.3,401.9 483.6,391.6 485.8,408.4 488.1,391.9 490.3,412.7 492.6,419.3 494.8,424.5 497.1,426.8 499.3,402.2 501.6,383.8 503.9,365.1 506.1,384.4 508.4,377.4 510.6,398.4 512.9,386.2 515.1,358.7 517.4,427.2 519.6,427.2 521.9,427.2 524.1,427.2 526.4,427.2 528.7,427.2 530.9,427.2 533.2,427.2 535.4,427.2 537.7,427.2 539.9,427.2 542.2,427.2 544.4,427.2 546.7,427.2 548.9,427.2 551.2,427.2 553.5,427.2"/>
<polyline stroke="#7f7f7f" points="102.5,427.2 104.8,427.2 107.1,427.2 109.3,427.2 111.6,427.2 113.8,427.2 116.1,427.2 118.3,427.2 120.6,427.2 122.8,427.2 125.1,427.2 127.3,427.2 129.6,427.2 131.9,427.2 134.1,427.2 136.4,427.2 138.6,427.2 140.9,427.2 143.1,427.2 145.4,427.2 147.6,427.2 149.9,427.2 152.1,427.2 154.4,427.2 156.7,427.2 158.9,427.2 161.2,427.2 163.4,427.2 165.7,427.2 167.9,427.2 170.2,427.2 172.4,427.2 174.7,426.8 176.9,425.7 179.2,424.5 181.5,423.7 183.7,425.1 186.0,423.8 188.2,422.2 190.5,420.9 192.7,417.9 195.0,416.0 197.2,418.1 199.5,418.4 201.7,417.4 204.0,418.9 206.3,418.6 208.5,417.8 210.8,417.5 213.0,415.3 215.3,411.3 217.5,413.3 219.8,414.5 222.0,416.2 224.3,416.0 226.5,413.8 228.8,413.2 231.1,412.8 233.3,409.7 235.6,406.2 237.8,409.9 240.1,410.2 242.3,410.8 244.6,407.9 246.8,405.5 249.1,405.9 251.3,406.7 253.6,406.2 255.9,406.1 258.1,402.7 260.4,399.7 262.6,401.1 264.9,402.6 267.1,405.6 269.4,404.2 271.6,408.3 273.9,410.3 276.1,408.5 278.4,398.2 280.7,395.5 282.9,396.5 285.2,402.2 287.4,405.2 289.7,402.2 291.9,398.2 294.2,394.7 296.4,398.4 298.7,399.3 300.9,396.7 303.2,403.5 305.5,402.0 307.7,403.1 310.0,401.3 312.2,398.9 314.5,396.8 316.7,398.4 319.0,403.5 321.2,403.6 323.5,405.8 325.7,405.2 328.0,399.5 330.3,395.2 332.5,393.6 334.8,399.0 337.0,405.8 339.3,404.5 341.5,396.5 343.8,398.7 346.0,402.3 348.3,404.0 350.5,404.7 352.8,407.2 355.1,409.6 357.3,403.7 359.6,400.4 361.8,396.6 364.1,401.1 366.3,405.3 368.6,407.2 370.8,403.3 373.1,404.9 375.3,401.9 377.6,399.1 379.9,397.0 382.1,394.1 384.4,392.6 386.6,391.2 388.9,388.4 391.1,386.1 393.4,385.5 395.6,385.6 397.9,387.9 400.1,390.1 402.4,393.3 404.7,395.4 406.9,398.9 409.2,402.2 411.4,403.3 413.7,409.3 415.9,405.2 418.2,405.9 420.4,405.8 422.7,402.0 424.9,398.7 427.2,400.8 429.5,401.7 431.7,403.1 434.0,401.3 436.2,398.8 438.5,404.2 440.7,407.0 443.0,409.1 445.2,408.8 447.5,404.9 449.7,404.5 452.0,406.2 454.3,404.4 456.5,407.6 458.8,402.9 461.0,405.4 463.3,405.7 465.5,411.1 467.8,412.6 470.0,409.8 472.3,403.7 474.5,405.0 476.8,411.5 479.1,405.0 481.3,398.6 483.6,396.3 485.8,400.9 488.1,411.6 490.3,405.0 492.6,417.7 494.8,424.5 497.1,426.9 499.3,421.6 501.6,412.9 503.9,399.3 506.1,416.4 508.4,410.3 510.6,417.9 512.9,404.5 515.1,405.0 517.4,427.2 519.6,427.2 521.9,427.2 524.1,427.2 526.4,427.2 528.7,427.2 530.9,427.2 533.2,427.2 535.4,427.2 537.7,427.2 539.9,427.2 542.2,427.2 544.4,427.2 546.7,427.2 548.9,427.2 551.2,427.2 553.5,427.2"/>
<polyline stroke="#bcbd22" points="102.5,427.2 104.8,427.2 107.1,427.2 109.3,427.2 111.6,427.2 113.8,427.2 116.1,427.2 118.3,427.2 120.6,427.2 122.8,427.2 125.1,427.2 127.3,427.2 129.6,427.2 131.9,427.2 134.1,427.2 136.4,427.2 138.6,427.2 140.9,427.2 143.1,427.2 145.4,427.2 147.6,427.2 149.9,427.2 152.1,427.2 154.4,427.2 156.7,427.2 158.9,427.2 161.2,427.2 163.4,427.2 165.7,427.2 167.9,427.2 170.2,427.2 172.4,427.2 174.7,426.8 176.9,425.9 179.2,424.9 181.5,423.1 183.7,424.6 186.0,423.5 188.2,421.8 190.5,420.8 192.7,416.9 195.0,413.6 197.2,415.3 199.5,416.2 201.7,416.1 204.0,417.4 206.3,417.7 208.5,417.7 210.8,416.5 213.0,413.9 215.3,409.5 217.5,412.1 219.8,411.2 222.0,412.9 224.3,415.5 226.5,413.3 228.8,410.6 231.1,411.8 233.3,412.5 235.6,409.1 237.8,410.5 240.1,410.0 242.3,408.8 244.6,406.0 246.8,406.3 249.1,407.9 251.3,409.7 253.6,409.6 255.9,407.3 258.1,406.9 260.4,407.3 262.6,405.7 264.9,408.9 267.1,410.2 269.4,407.6 271.6,407.8 273.9,406.1 276.1,408.4 278.4,404.3 280.7,401.8 282.9,402.0 285.2,403.8 287.4,402.4 289.7,402.9 291.9,402.6 294.2,401.9 296.4,400.6 298.7,397.8 300.9,398.0 303.2,397.8 305.5,397.7 307.7,397.6 310.0,397.5 312.2,397.9 314.5,398.4 316.7,398.4 319.0,396.6 321.2,394.8 323.5,392.2 325.7,388.6 328.0,385.0 330.3,379.4 332.5,373.8 334.8,376.6 337.0,379.4 339.3,376.7 341.5,372.6 343.8,384.7 346.0,391.6 348.3,392.3 350.5,393.1 352.8,393.8 355.1,394.6 357.3,395.4 359.6,396.1 361.8,396.2 364.1,396.2 366.3,396.2 368.6,396.5 370.8,397.0 373.1,397.6 375.3,399.6 377.6,401.4 379.9,402.3 382.1,399.2 384.4,402.0 386.6,404.9 388.9,404.9 391.1,404.6 393.4,405.3 395.6,408.6 397.9,410.5 400.1,410.0 402.4,409.3 404.7,408.3 406.9,408.6 409.2,409.1 411.4,411.4 413.7,412.5 415.9,406.6 418.2,408.0 420.4,406.2 422.7,401.3 424.9,399.7 427.2,401.5 429.5,400.1 431.7,401.8 434.0,398.9 436.2,393.0 438.5,399.3 440.7,403.8 443.0,406.9 445.2,407.5 447.5,403.5 449.7,403.9 452.0,402.4 454.3,401.8 456.5,407.7 458.8,399.5 461.0,400.0 463.3,403.1 465.5,409.7 467.8,411.5 470.0,406.6 472.3,394.8 474.5,396.9 476.8,409.3 479.1,398.5 481.3,405.8 483.6,405.3 485.8,405.3 488.1,402.8 490.3,408.1 492.6,419.9 494.8,426.7 497.1,426.7 499.3,426.2 501.6,424.7 503.9,421.6 506.1,407.4 508.4,325.3 510.6,411.4 512.9,422.3 515.1,423.4 517.4,427.2 519.6,427.2 521.9,427.2 524.1,427.2 526.4,427.2 528.7,427.2 530.9,427.2 533.2,427.2 535.4,427.2 537.7,427.2 539.9,427.2 542.2,427.2 544.4,427.2 546.7,427.2 548.9,427.2 551.2,427.2 553.5,427.2"/>
<polyline stroke="#17becf" points="102.5,427.2 104.8,427.2 107.1,427.2 109.3,427.2 111.6,427.2 113.8,427.2 116.1,427.2 118.3,427.2 120.6,427.2 122.8,427.2 125.1,427.2 127.3,427.2 129.6,427.2 131.9,427.2 134.1,427.2 136.4,427.2 138.6,427.2 140.9,426.7 143.1,425.8 145.4,426.0 147.6,426.2 149.9,426.3 152.1,426.7 154.4,427.0 156.7,427.0 158.9,427.1 161.2,427.1 163.4,427.2 165.7,427.2 167.9,427.2 170.2,427.2 172.4,427.2 174.7,426.9 176.9,425.9 179.2,424.4 181.5,423.3 183.7,424.8 186.0,423.5 188.2,421.6 190.5,420.7 192.7,418.9 195.0,416.6 197.2,417.4 199.5,415.9 201.7,413.1 204.0,413.6 206.3,416.1 208.5,417.7 210.8,415.8 213.0,413.4 215.3,410.0 217.5,410.7 219.8,410.1 222.0,410.8 224.3,413.4 226.5,415.0 228.8,414.1 231.1,412.6 233.3,410.6 235.6,406.8 237.8,409.2 240.1,408.7 242.3,409.3 244.6,405.8 246.8,402.7 249.1,407.3 251.3,411.2 253.6,409.5 255.9,406.6 258.1,406.2 260.4,408.5 262.6,404.5 264.9,404.3 267.1,405.3 269.4,401.7 271.6,403.2 273.9,400.7 276.1,405.5 278.4,400.8 280.7,397.1 282.9,397.5 285.2,399.9 287.4,398.7 289.7,399.9 291.9,402.0 294.2,404.7 296.4,403.0 298.7,397.8 300.9,396.7 303.2,405.5 305.5,409.3 307.7,408.7 310.0,407.6 312.2,406.6 314.5,403.6 316.7,403.0 319.0,407.5 321.2,409.6 323.5,412.7 325.7,410.5 328.0,402.1 330.3,396.5 332.5,395.9 334.8,399.7 337.0,402.8 339.3,402.1 341.5,398.7 343.8,405.2 346.0,408.4 348.3,410.5 350.5,408.8 352.8,404.1 355.1,404.7 357.3,404.4 359.6,403.9 361.8,400.3 364.1,403.0 366.3,401.5 368.6,399.5 370.8,400.2 373.1,405.5 375.3,406.3 377.6,402.4 379.9,397.5 382.1,393.7 384.4,399.9 386.6,402.7 388.9,403.2 391.1,403.7 393.4,406.9 395.6,409.8 397.9,410.3 400.1,406.8 402.4,405.6 404.7,404.5 406.9,406.1 409.2,408.5 411.4,407.5 413.7,409.3 415.9,404.1 418.2,403.7 420.4,404.0 422.7,403.2 424.9,400.5 427.2,399.3 429.5,397.1 431.7,397.4 434.0,392.4 436.2,388.6 438.5,397.6 440.7,402.8 443.0,404.3 445.2,401.0 447.5,397.5 449.7,402.5 452.0,402.5 454.3,400.8 456.5,402.8 458.8,395.8 461.0,401.6 463.3,404.1 465.5,406.7 467.8,408.8 470.0,404.8 472.3,392.9 474.5,396.9 476.8,411.8 479.1,410.0 481.3,407.4 483.6,406.5 485.8,404.0 488.1,412.7 490.3,419.0 492.6,421.0 494.8,426.7 497.1,426.7 499.3,424.4 501.6,425.3 503.9,423.3 506.1,423.2 508.4,424.6 510.6,426.0 512.9,423.2 515.1,426.0 517.4,427.2 519.6,427.2 521.9,427.2 524.1,427.2 526.4,427.2 528.7,427.2 530.9,427.2 533.2,427.2 535.4,427.2 537.7,427.2 539.9,427.2 542.2,427.2 544.4,427.2 546.7,427.2 548.9,427.2 551.2,427.2 553.5,427.2"/>
<polyline stroke="#1f77b4" points="102.5,427.2 104.8,427.2 107.1,427.2 109.3,427.2 111.6,427.2 113.8,427.2 116.1,427.2 118.3,427.2 120.6,427.2 122.8,427.2 125.1,427.2 127.3,427.2 129.6,427.2 131.9,427.2 134.1,427.2 136.4,427.2 138.6,427.2 140.9,427.2 143.1,427.2 145.4,427.2 147.6,427.2 149.9,427.2 152.1,427.2 154.4,427.2 156.7,427.2 158.9,427.2 161.2,427.2 163.4,427.2 165.7,427.2 167.9,427.2 170.2,427.2 172.4,427.2 174.7,426.8 176.9,425.4 179.2,423.2 181.5,421.6 183.7,423.8 186.0,421.6 188.2,418.8 190.5,417.4 192.7,413.3 195.0,408.6 197.2,410.6 199.5,412.7 201.7,411.6 204.0,411.6 206.3,414.5 208.5,416.6 210.8,415.8 213.0,413.6 215.3,407.3 217.5,405.6 219.8,402.7 222.0,406.2 224.3,410.7 226.5,412.9 228.8,412.6 231.1,409.1 233.3,405.4 235.6,403.5 237.8,408.0 240.1,404.7 242.3,403.8 244.6,400.4 246.8,397.2 249.1,401.5 251.3,406.9 253.6,408.1 255.9,408.0 258.1,405.7 260.4,401.1 262.6,399.0 264.9,402.1 267.1,401.9 269.4,394.5 271.6,401.4 273.9,399.4 276.1,399.5 278.4,396.2 280.7,396.6 282.9,393.2 285.2,392.5 287.4,389.2 289.7,387.4 291.9,385.5 294.2,384.2 296.4,385.8 298.7,387.6 300.9,388.8 303.2,391.6 305.5,392.5 307.7,397.5 310.0,402.6 312.2,403.7 314.5,403.5 316.7,403.6 319.0,400.5 321.2,395.0 323.5,394.8 325.7,397.5 328.0,393.9 330.3,388.4 332.5,385.3 334.8,394.5 337.0,404.2 339.3,400.9 341.5,385.0 343.8,386.7 346.0,391.5 348.3,395.5 350.5,394.3 352.8,395.5 355.1,399.4 357.3,392.1 359.6,392.6 361.8,392.0 364.1,390.1 366.3,391.4 368.6,393.6 370.8,391.7 373.1,398.2 375.3,402.3 377.6,403.6 379.9,399.7 382.1,394.0 384.4,393.9 386.6,391.6 388.9,393.6 391.1,399.6 393.4,398.6 395.6,396.3 397.9,400.6 400.1,403.8 402.4,400.0 404.7,395.7 406.9,393.8 409.2,388.6 411.4,386.6 413.7,398.5 415.9,396.9 418.2,397.8 420.4,397.2 422.7,394.1 424.9,394.8 427.2,396.5 429.5,392.1 431.7,389.3 434.0,390.1 436.2,387.7 438.5,393.8 440.7,397.9 443.0,398.0 445.2,395.3 447.5,386.4 449.7,383.9 452.0,385.9 454.3,390.5 456.5,397.7 458.8,387.5 461.0,392.1 463.3,394.6 465.5,399.8 467.8,402.8 470.0,398.8 472.3,384.2 474.5,384.2 476.8,398.5 479.1,394.8 481.3,391.9 483.6,382.8 485.8,383.0 488.1,395.4 490.3,402.0 492.6,413.1 494.8,424.5 497.1,426.5 499.3,426.5 501.6,426.1 503.9,423.8 506.1,425.7 508.4,425.0 510.6,426.2 512.9,425.5 515.1,424.0 517.4,427.2 519.6,427.2 521.9,427.2 524.1,427.2 526.4,427.2 528.7,427.2 530.9,427.2 533.2,427.2 535.4,427.2 537.7,427.2 539.9,427.2 542.2,427.2 544.4,427.2 546.7,427.2 548.9,427.2 551.2,427.2 553.5,427.2"/>
<polyline stroke="#ff7f0e" points="102.5,427.2 104.8,427.2 107.1,427.2 109.3,427.2 111.6,427.2 113.8,427.2 116.1,427.2 118.3,427.2 120.6,427.2 122.8,427.2 125.1,427.2 127.3,427.2 129.6,427.2 131.9,427.2 134.1,427.2 136.4,427.2 138.6,427.2 140.9,427.2 143.1,427.2 145.4,427.2 147.6,427.2 149.9,427.2 152.1,427.2 154.4,427.2 156.7,427.2 158.9,427.2 161.2,427.2 163.4,427.2 165.7,427.2 167.9,427.2 170.2,427.2 172.4,427.2 174.7,426.9 176.9,426.4 179.2,425.8 181.5,425.5 183.7,426.0 186.0,425.6 188.2,424.5 190.5,424.1 192.7,423.4 195.0,422.6 197.2,423.3 199.5,423.5 201.7,423.0 204.0,423.1 206.3,422.8 208.5,422.8 210.8,422.2 213.0,421.9 215.3,421.4 217.5,421.9 219.8,421.5 222.0,421.4 224.3,420.9 226.5,420.5 228.8,421.7 231.1,421.6 233.3,421.2 235.6,418.8 237.8,419.3 240.1,418.2 242.3,418.3 244.6,416.2 246.8,415.1 249.1,416.3 251.3,417.6 253.6,417.6 255.9,418.9 258.1,419.0 260.4,418.0 262.6,417.5 264.9,417.3 267.1,414.7 269.4,411.8 271.6,414.4 273.9,414.8 276.1,416.1 278.4,414.4 280.7,413.3 282.9,412.4 285.2,416.1 287.4,417.0 289.7,414.9 291.9,413.4 294.2,414.6 296.4,415.2 298.7,413.3 300.9,412.2 303.2,412.1 305.5,412.1 307.7,413.1 310.0,414.6 312.2,412.9 314.5,412.6 316.7,410.9 319.0,411.9 321.2,413.0 323.5,415.1 325.7,413.9 328.0,412.9 330.3,410.2 332.5,407.8 334.8,411.1 337.0,411.7 339.3,411.1 341.5,407.0 343.8,409.3 346.0,412.4 348.3,415.0 350.5,413.8 352.8,413.0 355.1,412.5 357.3,412.8 359.6,410.9 361.8,409.2 364.1,409.6 366.3,409.0 368.6,408.7 370.8,409.1 373.1,415.3 375.3,414.8 377.6,415.1 379.9,415.0 382.1,410.2 384.4,412.1 386.6,411.8 388.9,412.0 391.1,414.3 393.4,416.7 395.6,417.9 397.9,418.0 400.1,418.8 402.4,419.7 404.7,417.4 406.9,417.5 409.2,417.7 411.4,417.1 413.7,419.4 415.9,419.5 418.2,420.3 420.4,419.3 422.7,417.6 424.9,417.6 427.2,418.5 429.5,418.2 431.7,419.1 434.0,417.4 436.2,414.3 438.5,416.7 440.7,418.1 443.0,418.4 445.2,417.2 447.5,415.5 449.7,417.5 452.0,419.6 454.3,419.7 456.5,421.0 458.8,419.1 461.0,420.1 463.3,420.3 465.5,422.3 467.8,423.7 470.0,422.9 472.3,420.3 474.5,420.4 476.8,420.6 479.1,413.5 481.3,419.9 483.6,419.4 485.8,423.3 488.1,425.4 490.3,423.7 492.6,425.7 494.8,426.4 497.1,427.0 499.3,416.7 501.6,402.0 503.9,374.1 506.1,401.2 508.4,394.9 510.6,401.0 512.9,399.0 515.1,378.4 517.4,427.2 519.6,427.2 521.9,427.2 524.1,427.2 526.4,427.2 528.7,427.2 530.9,427.2 533.2,427.2 535.4,427.2 537.7,427.2 539.9,427.2 542.2,427.2 544.4,427.2 546.7,427.2 548.9,427.2 551.2,427.2 553.5,427.2"/>
<polyline stroke="#2ca02c" points="102.5,427.2 104.8,427.2 107.1,427.2 109.3,427.2 111.6,427.2 113.8,427.2 116.1,427.2 118.3,427.2 120.6,427.2 122.8,427.2 125.1,427.2 127.3,427.2 129.6,427.2 131.9,427.2 134.1,427.2 136.4,427.2 138.6,427.2 140.9,427.2 143.1,427.2 145.4,427.2 147.6,427.2 149.9,427.2 152.1,427.2 154.4,427.2 156.7,427.2 158.9,427.2 161.2,427.2 163.4,427.2 165.7,427.2 167.9,427.2 170.2,427.2 172.4,427.2 174.7,426.9 176.9,426.1 179.2,425.1 181.5,424.3 183.7,425.7 186.0,425.1 188.2,423.3 190.5,422.1 192.7,420.0 195.0,417.6 197.2,419.1 199.5,419.8 201.7,419.0 204.0,419.8 206.3,418.6 208.5,417.7 210.8,418.1 213.0,417.4 215.3,413.2 217.5,414.6 219.8,415.5 222.0,415.8 224.3,415.3 226.5,415.5 228.8,416.4 231.1,415.6 233.3,413.7 235.6,411.3 237.8,413.5 240.1,412.8 242.3,413.8 244.6,410.8 246.8,407.6 249.1,409.7 251.3,413.6 253.6,412.4 255.9,411.1 258.1,412.3 260.4,411.5 262.6,410.3 264.9,412.3 267.1,412.3 269.4,408.6 271.6,410.6 273.9,411.6 276.1,414.2 278.4,411.4 280.7,410.7 282.9,408.4 285.2,407.7 287.4,406.2 289.7,408.4 291.9,407.7 294.2,408.8 296.4,410.9 298.7,408.4 300.9,406.3 303.2,408.7 305.5,408.6 307.7,408.5 310.0,408.3 312.2,409.9 314.5,410.8 316.7,411.0 319.0,412.7 321.2,411.3 323.5,412.7 325.7,413.2 328.0,410.0 330.3,408.9 332.5,408.1 334.8,409.1 337.0,413.9 339.3,412.6 341.5,404.7 343.8,407.3 346.0,410.3 348.3,413.3 350.5,412.8 352.8,412.0 355.1,412.6 357.3,409.0 359.6,406.7 361.8,404.2 364.1,405.4 366.3,407.1 368.6,408.6 370.8,411.2 373.1,414.5 375.3,415.1 377.6,414.4 379.9,412.4 382.1,404.7 384.4,404.0 386.6,407.3 388.9,409.3 391.1,410.6 393.4,410.2 395.6,412.6 397.9,414.8 400.1,414.9 402.4,415.5 404.7,415.4 406.9,415.1 409.2,414.7 411.4,413.7 413.7,416.4 415.9,414.9 418.2,415.8 420.4,415.3 422.7,415.0 424.9,415.3 427.2,415.8 429.5,413.7 431.7,413.2 434.0,411.4 436.2,409.2 438.5,413.0 440.7,415.9 443.0,417.1 445.2,417.0 447.5,415.8 449.7,417.1 452.0,418.8 454.3,417.4 456.5,417.2 458.8,415.3 461.0,417.5 463.3,416.1 465.5,418.4 467.8,421.0 470.0,420.5 472.3,416.2 474.5,416.6 476.8,421.2 479.1,420.4 481.3,414.6 483.6,404.6 485.8,413.7 488.1,412.8 490.3,414.0 492.6,417.9 494.8,424.6 497.1,426.9 499.3,421.7 501.6,415.0 503.9,405.5 506.1,414.8 508.4,408.7 510.6,410.2 512.9,406.9 515.1,394.3 517.4,427.2 519.6,427.2 521.9,427.2 524.1,427.2 526.4,427.2 528.7,427.2 530.9,427.2 533.2,427.2 535.4,427.2 537.7,427.2 539.9,427.2 542.2,427.2 544.4,427.2 546.7,427.2 548.9,427.2 551.2,427.2 553.5,427.2"/>
<polyline stroke="#d62728" points="102.5,427.2 104.8,427.2 107.1,427.2 109.3,427.2 111.6,427.2 113.8,427.2 116.1,427.2 118.3,427.2 120.6,427.2 122.8,427.2 125.1,427.2 127.3,427.2 129.6,427.2 131.9,427.2 134.1,427.2 136.4,427.2 138.6,427.2 140.9,427.2 143.1,427.2 145.4,427.2 147.6,427.2 149.9,427.2 152.1,427.2 154.4,427.2 156.7,427.2 158.9,427.2 161.2,427.2 163.4,427.2 165.7,427.2 167.9,427.2 170.2,427.2 172.4,427.2 174.7,427.0 176.9,426.6 179.2,426.3 181.5,425.7 183.7,426.0 186.0,425.7 188.2,425.1 190.5,424.9 192.7,424.2 195.0,423.6 197.2,423.7 199.5,423.5 201.7,423.9 204.0,423.6 206.3,423.4 208.5,423.1 210.8,422.4 213.0,421.8 215.3,420.7 217.5,421.1 219.8,421.7 222.0,422.1 224.3,421.2 226.5,420.8 228.8,421.2 231.1,421.2 233.3,420.0 235.6,417.7 237.8,420.1 240.1,420.3 242.3,418.5 244.6,415.0 246.8,414.7 249.1,416.6 251.3,418.6 253.6,418.0 255.9,414.9 258.1,413.6 260.4,414.6 262.6,414.9 264.9,414.4 267.1,411.9 269.4,411.6 271.6,413.9 273.9,411.2 276.1,412.1 278.4,410.2 280.7,411.5 282.9,411.5 285.2,412.8 287.4,410.6 289.7,410.2 291.9,409.9 294.2,411.5 296.4,411.5 298.7,407.0 300.9,406.1 303.2,412.3 305.5,410.1 307.7,410.3 310.0,412.0 312.2,413.3 314.5,413.4 316.7,410.2 319.0,409.9 321.2,411.3 323.5,412.1 325.7,410.3 328.0,407.3 330.3,407.7 332.5,406.9 334.8,410.4 337.0,411.1 339.3,409.8 341.5,404.3 343.8,409.5 346.0,411.4 348.3,412.5 350.5,413.1 352.8,415.6 355.1,414.0 357.3,412.5 359.6,412.5 361.8,410.8 364.1,409.3 366.3,410.3 368.6,412.8 370.8,413.1 373.1,412.5 375.3,413.4 377.6,415.2 379.9,415.6 382.1,413.0 384.4,414.2 386.6,416.0 388.9,415.9 391.1,416.2 393.4,417.6 395.6,416.9 397.9,417.8 400.1,418.9 402.4,418.7 404.7,419.0 406.9,419.3 409.2,420.1 411.4,420.6 413.7,421.0 415.9,421.6 418.2,422.1 420.4,421.5 422.7,421.1 424.9,420.4 427.2,419.3 429.5,418.6 431.7,420.6 434.0,419.7 436.2,417.9 438.5,420.1 440.7,420.5 443.0,420.9 445.2,420.4 447.5,418.7 449.7,419.4 452.0,419.5 454.3,418.9 456.5,420.9 458.8,419.5 461.0,421.0 463.3,421.4 465.5,421.9 467.8,422.5 470.0,422.0 472.3,419.7 474.5,420.9 476.8,415.9 479.1,411.4 481.3,415.4 483.6,415.7 485.8,419.9 488.1,416.9 490.3,406.1 492.6,407.3 494.8,424.5 497.1,427.0 499.3,409.2 501.6,369.8 503.9,358.7 506.1,391.5 508.4,367.7 510.6,385.0 512.9,370.2 515.1,355.4 517.4,427.2 519.6,427.2 521.9,427.2 524.1,427.2 526.4,427.2 528.7,427.2 530.9,427.2 533.2,427.2 535.4,427.2 537.7,427.2 539.9,427.2 542.2,427.2 544.4,427.2 546.7,427.2 548.9,427.2 551.2,427.2 553.5,427.2"/>
<polyline stroke="#9467bd" points="102.5,427.2 104.8,427.2 107.1,427.2 109.3,427.2 111.6,427.2 113.8,427.2 116.1,427.2 118.3,427.2 120.6,427.2 122.8,427.2 125.1,427.2 127.3,427.2 129.6,427.2 131.9,427.2 134.1,427.2 136.4,427.2 138.6,427.2 140.9,427.2 143.1,427.2 145.4,427.2 147.6,427.2 149.9,427.2 152.1,427.2 154.4,427.2 156.7,427.2 158.9,427.2 161.2,427.2 163.4,427.2 165.7,427.2 167.9,427.2 170.2,427.2 172.4,427.2 174.7,427.0 176.9,426.7 179.2,426.3 181.5,425.7 183.7,425.8 186.0,425.5 188.2,425.4 190.5,425.0 192.7,424.5 195.0,423.8 197.2,423.8 199.5,424.0 201.7,423.7 204.0,423.1 206.3,422.8 208.5,422.8 210.8,422.4 213.0,422.1 215.3,420.9 217.5,421.7 219.8,421.5 222.0,421.0 224.3,421.3 226.5,421.9 228.8,421.9 231.1,421.0 233.3,420.4 235.6,418.3 237.8,420.3 240.1,419.1 242.3,419.6 244.6,417.7 246.8,418.2 249.1,418.8 251.3,419.2 253.6,418.7 255.9,417.3 258.1,416.2 260.4,415.6 262.6,416.1 264.9,416.7 267.1,416.6 269.4,414.5 271.6,414.5 273.9,414.1 276.1,414.1 278.4,409.2 280.7,409.7 282.9,410.7 285.2,410.9 287.4,407.9 289.7,408.2 291.9,411.1 294.2,411.7 296.4,411.6 298.7,409.8 300.9,408.5 303.2,410.8 305.5,410.5 307.7,410.7 310.0,409.3 312.2,408.1 314.5,409.2 316.7,410.9 319.0,414.0 321.2,414.8 323.5,414.6 325.7,413.1 328.0,408.4 330.3,407.0 332.5,406.6 334.8,407.5 337.0,409.3 339.3,410.7 341.5,409.8 343.8,413.4 346.0,415.4 348.3,414.9 350.5,413.9 352.8,414.5 355.1,414.6 357.3,411.8 359.6,408.6 361.8,408.3 364.1,409.8 366.3,412.4 368.6,413.3 370.8,411.8 373.1,414.3 375.3,414.0 377.6,414.2 379.9,414.4 382.1,412.7 384.4,414.0 386.6,414.7 388.9,413.8 391.1,414.1 393.4,416.3 395.6,418.4 397.9,419.2 400.1,418.8 402.4,419.2 404.7,419.4 406.9,419.9 409.2,419.7 411.4,420.1 413.7,421.4 415.9,421.7 418.2,421.8 420.4,420.7 422.7,420.6 424.9,421.0 427.2,421.5 429.5,421.2 431.7,420.2 434.0,418.3 436.2,418.6 438.5,420.7 440.7,421.1 443.0,421.5 445.2,419.9 447.5,419.3 449.7,420.5 452.0,420.8 454.3,421.2 456.5,422.1 458.8,422.9 461.0,423.5 463.3,424.0 465.5,424.9 467.8,424.7 470.0,424.6 472.3,423.5 474.5,423.5 476.8,423.6 479.1,417.8 481.3,411.4 483.6,403.9 485.8,411.8 488.1,418.4 490.3,418.7 492.6,423.8 494.8,425.7 497.1,427.0 499.3,403.5 501.6,384.8 503.9,373.5 506.1,390.1 508.4,387.7 510.6,383.0 512.9,384.1 515.1,372.2 517.4,427.2 519.6,427.2 521.9,427.2 524.1,427.2 526.4,427.2 528.7,427.2 530.9,427.2 533.2,427.2 535.4,427.2 537.7,427.2 539.9,427.2 542.2,427.2 544.4,427.2 546.7,427.2 548.9,427.2 551.2,427.2 553.5,427.2"/>
<polyline stroke="#8c564b" points="102.5,427.2 104.8,427.2 107.1,427.2 109.3,427.2 111.6,427.2 113.8,427.2 116.1,427.2 118.3,427.2 120.6,427.2 122.8,427.2 125.1,427.2 127.3,427.2 129.6,427.2 131.9,427.2 134.1,427.2 136.4,427.2 138.6,427.2 140.9,427.2 143.1,427.2 145.4,427.2 147.6,427.2 149.9,427.2 152.1,427.2 154.4,427.2 156.7,427.2 158.9,427.2 161.2,427.2 163.4,427.2 165.7,427.2 167.9,427.2 170.2,427.2 172.4,427.2 174.7,427.0 176.9,426.7 179.2,426.3 181.5,425.6 183.7,426.0 186.0,425.8 188.2,425.1 190.5,424.7 192.7,423.6 195.0,421.7 197.2,421.7 199.5,421.4 201.7,421.2 204.0,421.9 206.3,422.2 208.5,422.5 210.8,422.4 213.0,420.8 215.3,417.3 217.5,418.0 219.8,418.6 222.0,419.6 224.3,419.2 226.5,418.3 228.8,417.4 231.1,418.6 233.3,420.0 235.6,418.8 237.8,419.3 240.1,418.6 242.3,418.2 244.6,416.3 246.8,416.6 249.1,417.6 251.3,417.8 253.6,417.0 255.9,416.7 258.1,417.5 260.4,417.1 262.6,415.4 264.9,415.4 267.1,414.6 269.4,414.6 271.6,415.2 273.9,415.6 276.1,416.0 278.4,414.3 280.7,414.2 282.9,414.8 285.2,414.9 287.4,413.0 289.7,413.3 291.9,414.4 294.2,415.4 296.4,414.8 298.7,412.3 300.9,411.2 303.2,412.4 305.5,410.5 307.7,411.5 310.0,412.9 312.2,412.7 314.5,412.0 316.7,410.8 319.0,412.6 321.2,411.2 323.5,411.8 325.7,412.9 328.0,409.1 330.3,405.8 332.5,404.4 334.8,405.5 337.0,409.0 339.3,408.7 341.5,402.6 343.8,409.2 346.0,414.8 348.3,414.0 350.5,411.0 352.8,409.7 355.1,412.0 357.3,409.7 359.6,407.3 361.8,406.9 364.1,407.7 366.3,406.8 368.6,407.0 370.8,407.7 373.1,413.1 375.3,414.3 377.6,414.9 379.9,414.8 382.1,410.6 384.4,408.8 386.6,410.0 388.9,411.7 391.1,412.6 393.4,414.8 395.6,415.2 397.9,415.0 400.1,416.6 402.4,416.9 404.7,415.9 406.9,417.1 409.2,418.4 411.4,419.2 413.7,420.2 415.9,419.6 418.2,419.7 420.4,418.5 422.7,416.7 424.9,417.3 427.2,417.6 429.5,416.4 431.7,417.9 434.0,417.7 436.2,416.4 438.5,418.8 440.7,420.1 443.0,419.7 445.2,419.6 447.5,418.9 449.7,420.1 452.0,420.6 454.3,420.6 456.5,421.1 458.8,420.0 461.0,420.8 463.3,421.0 465.5,422.4 467.8,423.3 470.0,421.7 472.3,418.5 474.5,420.0 476.8,419.5 479.1,413.8 481.3,419.9 483.6,420.3 485.8,416.1 488.1,409.9 490.3,413.1 492.6,416.9 494.8,425.7 497.1,427.0 499.3,406.8 501.6,384.7 503.9,381.8 506.1,378.7 508.4,355.4 510.6,381.5 512.9,368.2 515.1,355.4 517.4,427.2 519.6,427.2 521.9,427.2 524.1,427.2 526.4,427.2 528.7,427.2 530.9,427.2 533.2,427.2 535.4,427.2 537.7,427.2 539.9,427.2 542.2,427.2 544.4,427.2 546.7,427.2 548.9,427.2 551.2,427.2 553.5,427.2"/>
<polyline stroke="#e377c2" points="102.5,427.2 104.8,427.2 107.1,427.2 109.3,427.2 111.6,427.2 113.8,427.2 116.1,427.2 118.3,427.2 120.6,427.2 122.8,427.2 125.1,427.2 127.3,427.2 129.6,427.2 131.9,427.2 134.1,427.2 136.4,427.2 138.6,427.2 140.9,427.2 143.1,427.2 145.4,427.2 147.6,427.2 149.9,427.2 152.1,427.2 154.4,427.2 156.7,427.2 158.9,427.2 161.2,427.2 163.4,427.2 165.7,427.2 167.9,427.2 170.2,427.2 172.4,427.2 174.7,426.9 176.9,426.5 179.2,426.2 181.5,426.0 183.7,425.8 186.0,425.7 188.2,425.5 190.5,424.9 192.7,424.4 195.0,423.5 197.2,423.5 199.5,423.8 201.7,423.5 204.0,423.5 206.3,422.2 208.5,421.6 210.8,422.3 213.0,422.5 215.3,420.7 217.5,421.8 219.8,422.1 222.0,421.8 224.3,421.5 226.5,421.4 228.8,422.1 231.1,421.9 233.3,420.7 235.6,419.7 237.8,421.7 240.1,420.5 242.3,419.2 244.6,416.6 246.8,416.4 249.1,418.0 251.3,419.0 253.6,417.9 255.9,416.6 258.1,416.3 260.4,415.2 262.6,413.6 264.9,413.0 267.1,413.5 269.4,412.7 271.6,415.2 273.9,414.0 276.1,415.6 278.4,412.4 280.7,410.0 282.9,412.0 285.2,414.6 287.4,409.3 289.7,407.4 291.9,409.3 294.2,412.4 296.4,413.7 298.7,410.2 300.9,407.8 303.2,412.0 305.5,412.0 307.7,412.4 310.0,413.1 312.2,412.5 314.5,412.9 316.7,412.4 319.0,413.2 321.2,412.2 323.5,414.1 325.7,412.5 328.0,413.1 330.3,411.5 332.5,410.2 334.8,410.6 337.0,412.2 339.3,412.9 341.5,410.7 343.8,411.1 346.0,415.2 348.3,417.1 350.5,416.2 352.8,413.5 355.1,413.7 357.3,411.9 359.6,410.9 361.8,409.0 364.1,410.5 366.3,411.7 368.6,412.9 370.8,414.3 373.1,416.6 375.3,416.8 377.6,415.5 379.9,412.3 382.1,408.3 384.4,409.9 386.6,410.5 388.9,412.4 391.1,414.9 393.4,415.7 395.6,416.8 397.9,418.3 400.1,418.8 402.4,418.1 404.7,418.5 406.9,419.0 409.2,419.6 411.4,419.7 413.7,419.5 415.9,418.8 418.2,418.7 420.4,418.4 422.7,418.6 424.9,419.3 427.2,418.3 429.5,416.6 431.7,418.5 434.0,417.7 436.2,414.5 438.5,416.7 440.7,418.3 443.0,419.2 445.2,419.1 447.5,416.6 449.7,417.6 452.0,419.5 454.3,419.5 456.5,419.4 458.8,416.8 461.0,418.1 463.3,418.4 465.5,421.2 467.8,422.3 470.0,421.4 472.3,418.7 474.5,419.2 476.8,422.4 479.1,421.3 481.3,420.0 483.6,417.6 485.8,418.9 488.1,416.7 490.3,399.2 492.6,411.8 494.8,424.5 497.1,426.9 499.3,423.2 501.6,417.6 503.9,416.5 506.1,419.1 508.4,416.1 510.6,416.7 512.9,415.6 515.1,415.2 517.4,427.2 519.6,427.2 521.9,427.2 524.1,427.2 526.4,427.2 528.7,427.2 530.9,427.2 533.2,427.2 535.4,427.2 537.7,427.2 539.9,427.2 542.2,427.2 544.4,427.2 546.7,427.2 548.9,427.2 551.2,427.2 553.5,427.2"/>
<polyline stroke="#7f7f7f" points="102.5,427.2 104.8,427.2 107.1,427.2 109.3,427.2 111.6,427.2 113.8,427.2 116.1,427.2 118.3,427.2 120.6,427.2 122.8,427.2 125.1,427.2 127.3,427.2 129.6,427.2 131.9,427.2 134.1,427.2 136.4,427.2 138.6,427.2 140.9,427.2 143.1,427.2 145.4,427.2 147.6,427.2 149.9,427.2 152.1,427.2 154.4,427.2 156.7,427.2 158.9,427.2 161.2,427.2 163.4,427.2 165.7,427.2 167.9,427.2 170.2,427.2 172.4,427.2 174.7,426.9 176.9,425.9 179.2,424.9 181.5,424.5 183.7,425.4 186.0,424.4 188.2,423.3 190.5,422.2 192.7,420.2 195.0,419.0 197.2,420.5 199.5,419.8 201.7,418.9 204.0,420.3 206.3,420.7 208.5,421.2 210.8,421.6 213.0,420.7 215.3,416.9 217.5,417.4 219.8,416.5 222.0,416.8 224.3,418.2 226.5,419.2 228.8,418.4 231.1,417.2 233.3,415.8 235.6,413.9 237.8,418.0 240.1,418.3 242.3,416.8 244.6,414.7 246.8,415.4 249.1,416.6 251.3,417.4 253.6,418.2 255.9,418.2 258.1,416.1 260.4,414.6 262.6,413.2 264.9,414.9 267.1,416.4 269.4,415.1 271.6,414.3 273.9,415.4 276.1,415.0 278.4,409.2 280.7,410.5 282.9,411.5 285.2,410.8 287.4,412.2 289.7,412.4 291.9,411.9 294.2,411.3 296.4,411.4 298.7,410.7 300.9,410.5 303.2,409.9 305.5,410.2 307.7,411.0 310.0,413.1 312.2,414.8 314.5,414.1 316.7,413.3 319.0,414.5 321.2,412.3 323.5,411.1 325.7,411.6 328.0,408.3 330.3,407.9 332.5,405.4 334.8,406.7 337.0,409.8 339.3,410.6 341.5,403.6 343.8,404.6 346.0,408.8 348.3,411.8 350.5,411.0 352.8,413.4 355.1,415.0 357.3,412.6 359.6,409.9 361.8,407.2 364.1,406.0 366.3,404.2 368.6,406.4 370.8,412.8 373.1,414.3 375.3,414.4 377.6,412.8 379.9,414.0 382.1,412.2 384.4,411.4 386.6,412.8 388.9,413.1 391.1,414.1 393.4,416.1 395.6,415.8 397.9,417.5 400.1,417.6 402.4,418.6 404.7,418.1 406.9,418.6 409.2,417.8 411.4,416.8 413.7,415.0 415.9,413.4 418.2,416.1 420.4,415.9 422.7,415.9 424.9,416.8 427.2,418.0 429.5,415.2 431.7,413.6 434.0,413.0 436.2,412.7 438.5,418.2 440.7,419.8 443.0,418.4 445.2,416.2 447.5,413.5 449.7,415.1 452.0,416.7 454.3,417.7 456.5,419.0 458.8,416.0 461.0,417.5 463.3,413.9 465.5,410.5 467.8,405.9 470.0,400.6 472.3,395.6 474.5,391.1 476.8,375.0 479.1,360.4 481.3,385.1 483.6,397.6 485.8,400.7 488.1,390.2 490.3,394.4 492.6,409.9 494.8,424.5 497.1,427.0 499.3,415.0 501.6,404.4 503.9,394.5 506.1,407.7 508.4,377.7 510.6,395.7 512.9,386.3 515.1,379.4 517.4,427.2 519.6,427.2 521.9,427.2 524.1,427.2 526.4,427.2 528.7,427.2 530.9,427.2 533.2,427.2 535.4,427.2 537.7,427.2 539.9,427.2 542.2,427.2 544.4,427.2 546.7,427.2 548.9,427.2 551.2,427.2 553.5,427.2"/>
<polyline stroke="#bcbd22" points="102.5,427.2 104.8,427.2 107.1,427.2 109.3,427.2 111.6,427.2 113.8,427.2 116.1,427.2 118.3,427.2 120.6,427.2 122.8,427.2 125.1,427.2 127.3,427.2 129.6,427.2 131.9,427.2 134.1,427.2 136.4,427.2 138.6,427.2 140.9,427.2 143.1,427.2 145.4,427.2 147.6,427.2 149.9,427.2 152.1,427.2 154.4,427.2 156.7,427.2 158.9,427.2 161.2,427.2 163.4,427.2 165.7,427.2 167.9,427.2 170.2,427.2 172.4,427.2 174.7,427.0 176.9,426.5 179.2,425.6 181.5,424.7 183.7,425.7 186.0,425.1 188.2,424.0 190.5,423.6 192.7,421.8 195.0,420.2 197.2,420.9 199.5,421.3 201.7,421.2 204.0,421.2 206.3,420.6 208.5,420.8 210.8,420.5 213.0,419.7 215.3,415.7 217.5,415.8 219.8,416.8 222.0,418.0 224.3,417.2 226.5,416.4 228.8,416.6 231.1,416.2 233.3,415.2 235.6,414.0 237.8,416.5 240.1,416.5 242.3,416.3 244.6,414.1 246.8,413.0 249.1,414.3 251.3,417.2 253.6,416.5 255.9,415.7 258.1,415.2 260.4,414.7 262.6,415.2 264.9,415.5 267.1,414.2 269.4,413.3 271.6,417.0 273.9,415.7 276.1,415.4 278.4,414.8 280.7,414.4 282.9,411.7 285.2,411.5 287.4,412.0 289.7,413.3 291.9,414.4 294.2,414.0 296.4,413.2 298.7,412.5 300.9,409.7 303.2,412.5 305.5,412.2 307.7,413.7 310.0,414.2 312.2,413.2 314.5,414.8 316.7,413.8 319.0,414.8 321.2,415.1 323.5,415.6 325.7,414.6 328.0,410.4 330.3,407.0 332.5,407.1 334.8,410.0 337.0,411.0 339.3,411.6 341.5,408.3 343.8,410.2 346.0,412.1 348.3,412.8 350.5,414.1 352.8,414.7 355.1,415.1 357.3,411.0 359.6,408.5 361.8,407.0 364.1,407.4 366.3,408.9 368.6,411.4 370.8,413.9 373.1,416.2 375.3,416.8 377.6,416.4 379.9,411.8 382.1,409.7 384.4,410.9 386.6,412.4 388.9,413.2 391.1,413.3 393.4,414.9 395.6,416.9 397.9,417.0 400.1,417.6 402.4,417.9 404.7,418.2 406.9,418.5 409.2,418.9 411.4,418.8 413.7,420.2 415.9,419.2 418.2,420.0 420.4,419.3 422.7,419.6 424.9,420.2 427.2,419.6 429.5,418.5 431.7,419.3 434.0,418.4 436.2,417.2 438.5,419.7 440.7,419.1 443.0,419.1 445.2,419.6 447.5,420.6 449.7,420.9 452.0,421.0 454.3,421.3 456.5,421.8 458.8,422.3 461.0,422.9 463.3,422.0 465.5,422.9 467.8,423.6 470.0,422.2 472.3,418.7 474.5,419.5 476.8,422.8 479.1,413.5 481.3,411.8 483.6,400.7 485.8,404.5 488.1,412.0 490.3,402.1 492.6,417.7 494.8,424.5 497.1,426.9 499.3,419.8 501.6,409.5 503.9,395.3 506.1,416.4 508.4,396.2 510.6,409.2 512.9,403.0 515.1,405.2 517.4,427.2 519.6,427.2 521.9,427.2 524.1,427.2 526.4,427.2 528.7,427.2 530.9,427.2 533.2,427.2 535.4,427.2 537.7,427.2 539.9,427.2 542.2,427.2 544.4,427.2 546.7,427.2 548.9,427.2 551.2,427.2 553.5,427.2"/>
<polyline stroke="#17becf" points="102.5,427.2 104.8,427.2 107.1,427.2 109.3,427.2 111.6,427.2 113.8,427.2 116.1,427.2 118.3,427.2 120.6,427.2 122.8,427.2 125.1,427.2 127.3,427.2 129.6,427.2 131.9,427.2 134.1,427.2 136.4,427.2 138.6,427.2 140.9,427.2 143.1,427.2 145.4,427.2 147.6,427.2 149.9,427.2 152.1,427.2 154.4,427.2 156.7,427.2 158.9,427.2 161.2,427.2 163.4,427.2 165.7,427.2 167.9,427.2 170.2,427.2 172.4,427.2 174.7,425.5 176.9,422.0 179.2,420.3 181.5,419.6 183.7,419.8 186.0,420.0 188.2,416.0 190.5,412.5 192.7,408.0 195.0,404.6 197.2,407.0 199.5,409.2 201.7,411.0 204.0,412.0 206.3,411.6 208.5,411.2 210.8,411.7 213.0,410.9 215.3,401.5 217.5,399.9 219.8,399.4 222.0,403.1 224.3,403.6 226.5,402.5 228.8,404.0 231.1,406.5 233.3,401.3 235.6,393.8 237.8,400.8 240.1,401.8 242.3,402.7 244.6,396.2 246.8,390.2 249.1,393.1 251.3,397.0 253.6,395.6 255.9,393.5 258.1,394.0 260.4,392.7 262.6,393.6 264.9,389.9 267.1,387.5 269.4,392.3 271.6,399.7 273.9,390.9 276.1,393.3 278.4,384.5 280.7,380.7 282.9,380.3 285.2,383.3 287.4,382.9 289.7,384.4 291.9,384.1 294.2,385.3 296.4,384.8 298.7,382.9 300.9,384.6 303.2,394.8 305.5,392.8 307.7,388.2 310.0,389.4 312.2,387.1 314.5,381.7 316.7,378.6 319.0,385.6 321.2,387.6 323.5,392.7 325.7,392.9 328.0,384.1 330.3,374.4 332.5,376.1 334.8,387.0 337.0,391.3 339.3,383.3 341.5,374.9 343.8,380.9 346.0,385.9 348.3,388.8 350.5,387.2 352.8,386.5 355.1,394.3 357.3,394.6 359.6,382.5 361.8,377.7 364.1,381.4 366.3,381.4 368.6,381.3 370.8,384.1 373.1,398.0 375.3,400.9 377.6,396.4 379.9,389.3 382.1,384.5 384.4,388.5 386.6,392.8 388.9,394.1 391.1,392.0 393.4,391.1 395.6,391.0 397.9,394.8 400.1,403.8 402.4,404.6 404.7,396.2 406.9,395.6 409.2,396.1 411.4,394.7 413.7,397.0 415.9,389.3 418.2,391.5 420.4,386.7 422.7,380.7 424.9,382.1 427.2,382.9 429.5,380.7 431.7,386.1 434.0,380.6 436.2,378.2 438.5,393.5 440.7,393.9 443.0,389.3 445.2,385.9 447.5,374.3 449.7,375.0 452.0,384.5 454.3,393.1 456.5,393.1 458.8,381.7 461.0,385.8 463.3,390.2 465.5,394.9 467.8,395.0 470.0,388.0 472.3,331.5 474.5,331.5 476.8,392.0 479.1,391.5 481.3,392.4 483.6,390.6 485.8,384.5 488.1,394.5 490.3,403.9 492.6,409.6 494.8,426.2 497.1,426.3 499.3,425.7 501.6,423.8 503.9,419.7 506.1,423.8 508.4,424.1 510.6,424.7 512.9,424.2 515.1,423.9 517.4,427.2 519.6,427.2 521.9,427.2 524.1,427.2 526.4,427.2 528.7,427.2 530.9,427.2 533.2,427.2 535.4,427.2 537.7,427.2 539.9,427.2 542.2,427.2 544.4,427.2 546.7,427.2 548.9,427.2 551.2,427.2 553.5,427.2"/>
</g>
<rect x="80.5" y="57.5" width="496" height="370" fill="none" stroke="#000" stroke-width="1.11"/>
<g stroke="#000" stroke-width="1.11"><line x1="86.5" y1="427.5" x2="86.5" y2="432.36"/><line x1="155.5" y1="427.5" x2="155.5" y2="432.36"/><line x1="224.5" y1="427.5" x2="224.5" y2="432.36"/><line x1="292.5" y1="427.5" x2="292.5" y2="432.36"/><line x1="361.5" y1="427.5" x2="361.5" y2="432.36"/><line x1="430.5" y1="427.5" x2="430.5" y2="432.36"/><line x1="499.5" y1="427.5" x2="499.5" y2="432.36"/><line x1="568.5" y1="427.5" x2="568.5" y2="432.36"/><line x1="75.64" y1="427.5" x2="80.5" y2="427.5"/><line x1="75.64" y1="359.5" x2="80.5" y2="359.5"/><line x1="75.64" y1="290.5" x2="80.5" y2="290.5"/><line x1="75.64" y1="222.5" x2="80.5" y2="222.5"/><line x1="75.64" y1="154.5" x2="80.5" y2="154.5"/><line x1="75.64" y1="85.5" x2="80.5" y2="85.5"/></g>
</svg>
<svg class="ov" width="640" height="480" viewBox="0 0 640 480">
<g font-family="Liberation Sans, sans-serif" fill="#000"><text font-size="14.10" text-anchor="middle" transform="translate(85.50,447.50) scale(1.224,1)">−2</text><text font-size="14.10" text-anchor="middle" transform="translate(155.50,447.50) scale(1.080,1)">0</text><text font-size="14.10" text-anchor="middle" transform="translate(223.00,447.50) scale(0.926,1)">2</text><text font-size="14.10" text-anchor="middle" transform="translate(293.50,447.50) scale(1.080,1)">4</text><text font-size="14.10" text-anchor="middle" transform="translate(361.50,447.50) scale(1.080,1)">6</text><text font-size="14.10" text-anchor="middle" transform="translate(430.50,447.50) scale(1.080,1)">8</text><text font-size="14.10" text-anchor="middle" transform="translate(500.00,447.50) scale(1.008,1)">10</text><text font-size="14.10" text-anchor="middle" transform="translate(568.50,447.50) scale(0.936,1)">12</text><text font-size="14.10" text-anchor="middle" transform="translate(66.30,433.40) scale(1.080,1)">0</text><text font-size="14.10" text-anchor="middle" transform="translate(66.80,364.40) scale(0.926,1)">1</text><text font-size="14.10" text-anchor="middle" transform="translate(65.80,296.40) scale(0.926,1)">2</text><text font-size="14.10" text-anchor="middle" transform="translate(66.30,228.40) scale(1.080,1)">3</text><text font-size="14.10" text-anchor="middle" transform="translate(66.80,159.40) scale(0.945,1)">4</text><text font-size="14.10" text-anchor="middle" transform="translate(66.30,91.40) scale(1.080,1)">5</text><text font-size="20.00" text-anchor="middle" transform="translate(327.50,471.00) scale(1.086,1)">Frequency (THz)</text><text font-size="20.00" text-anchor="middle" transform="translate(50.80,243.50) rotate(-90) scale(1.130,1)">Partial Density of States</text></g>
</svg>
</body></html>
